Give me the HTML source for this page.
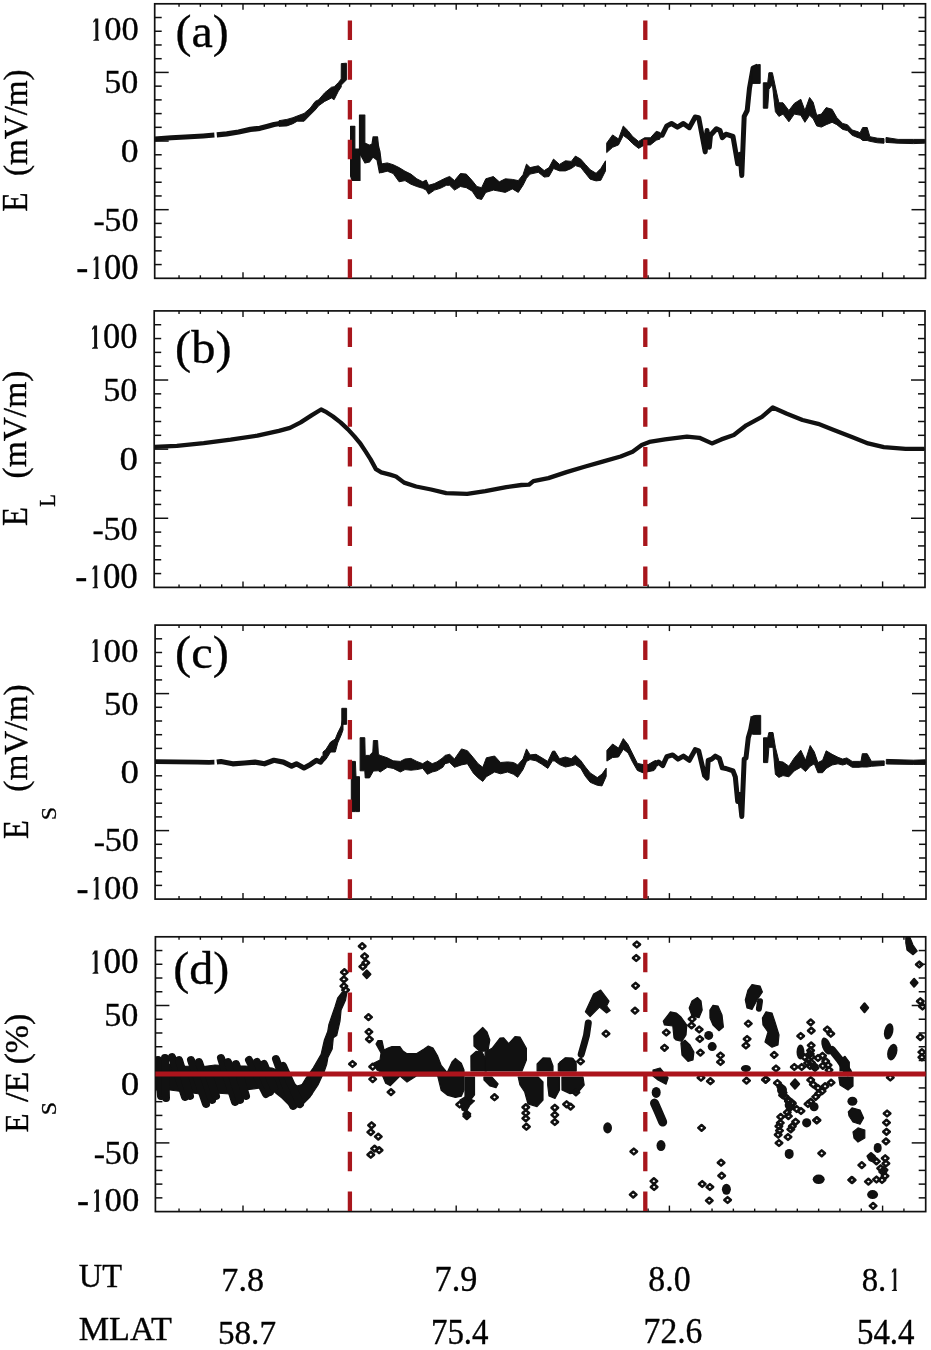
<!DOCTYPE html>
<html><head><meta charset="utf-8"><style>
html,body{margin:0;padding:0;background:#fff;}
svg{display:block;}
text{font-family:"Liberation Serif",serif;fill:#000;stroke:#000;}
</style></head><body>
<svg width="931" height="1350" viewBox="0 0 931 1350">
<rect width="931" height="1350" fill="#fff"/>
<rect x="154.7" y="3.8" width="770.80" height="274.50" fill="none" stroke="#111" stroke-width="1.7"/>
<line x1="154.7" y1="17.52" x2="161.7" y2="17.52" stroke="#111" stroke-width="1.5"/>
<line x1="925.5" y1="17.52" x2="918.5" y2="17.52" stroke="#111" stroke-width="1.5"/>
<line x1="154.7" y1="31.25" x2="161.7" y2="31.25" stroke="#111" stroke-width="1.5"/>
<line x1="925.5" y1="31.25" x2="918.5" y2="31.25" stroke="#111" stroke-width="1.5"/>
<line x1="154.7" y1="44.97" x2="161.7" y2="44.97" stroke="#111" stroke-width="1.5"/>
<line x1="925.5" y1="44.97" x2="918.5" y2="44.97" stroke="#111" stroke-width="1.5"/>
<line x1="154.7" y1="58.70" x2="161.7" y2="58.70" stroke="#111" stroke-width="1.5"/>
<line x1="925.5" y1="58.70" x2="918.5" y2="58.70" stroke="#111" stroke-width="1.5"/>
<line x1="154.7" y1="72.42" x2="168.7" y2="72.42" stroke="#111" stroke-width="1.5"/>
<line x1="925.5" y1="72.42" x2="911.5" y2="72.42" stroke="#111" stroke-width="1.5"/>
<line x1="154.7" y1="86.15" x2="161.7" y2="86.15" stroke="#111" stroke-width="1.5"/>
<line x1="925.5" y1="86.15" x2="918.5" y2="86.15" stroke="#111" stroke-width="1.5"/>
<line x1="154.7" y1="99.88" x2="161.7" y2="99.88" stroke="#111" stroke-width="1.5"/>
<line x1="925.5" y1="99.88" x2="918.5" y2="99.88" stroke="#111" stroke-width="1.5"/>
<line x1="154.7" y1="113.60" x2="161.7" y2="113.60" stroke="#111" stroke-width="1.5"/>
<line x1="925.5" y1="113.60" x2="918.5" y2="113.60" stroke="#111" stroke-width="1.5"/>
<line x1="154.7" y1="127.33" x2="161.7" y2="127.33" stroke="#111" stroke-width="1.5"/>
<line x1="925.5" y1="127.33" x2="918.5" y2="127.33" stroke="#111" stroke-width="1.5"/>
<line x1="154.7" y1="141.05" x2="168.7" y2="141.05" stroke="#111" stroke-width="1.5"/>
<line x1="925.5" y1="141.05" x2="911.5" y2="141.05" stroke="#111" stroke-width="1.5"/>
<line x1="154.7" y1="154.78" x2="161.7" y2="154.78" stroke="#111" stroke-width="1.5"/>
<line x1="925.5" y1="154.78" x2="918.5" y2="154.78" stroke="#111" stroke-width="1.5"/>
<line x1="154.7" y1="168.50" x2="161.7" y2="168.50" stroke="#111" stroke-width="1.5"/>
<line x1="925.5" y1="168.50" x2="918.5" y2="168.50" stroke="#111" stroke-width="1.5"/>
<line x1="154.7" y1="182.23" x2="161.7" y2="182.23" stroke="#111" stroke-width="1.5"/>
<line x1="925.5" y1="182.23" x2="918.5" y2="182.23" stroke="#111" stroke-width="1.5"/>
<line x1="154.7" y1="195.95" x2="161.7" y2="195.95" stroke="#111" stroke-width="1.5"/>
<line x1="925.5" y1="195.95" x2="918.5" y2="195.95" stroke="#111" stroke-width="1.5"/>
<line x1="154.7" y1="209.68" x2="168.7" y2="209.68" stroke="#111" stroke-width="1.5"/>
<line x1="925.5" y1="209.68" x2="911.5" y2="209.68" stroke="#111" stroke-width="1.5"/>
<line x1="154.7" y1="223.40" x2="161.7" y2="223.40" stroke="#111" stroke-width="1.5"/>
<line x1="925.5" y1="223.40" x2="918.5" y2="223.40" stroke="#111" stroke-width="1.5"/>
<line x1="154.7" y1="237.12" x2="161.7" y2="237.12" stroke="#111" stroke-width="1.5"/>
<line x1="925.5" y1="237.12" x2="918.5" y2="237.12" stroke="#111" stroke-width="1.5"/>
<line x1="154.7" y1="250.85" x2="161.7" y2="250.85" stroke="#111" stroke-width="1.5"/>
<line x1="925.5" y1="250.85" x2="918.5" y2="250.85" stroke="#111" stroke-width="1.5"/>
<line x1="154.7" y1="264.57" x2="161.7" y2="264.57" stroke="#111" stroke-width="1.5"/>
<line x1="925.5" y1="264.57" x2="918.5" y2="264.57" stroke="#111" stroke-width="1.5"/>
<line x1="179.04" y1="278.3" x2="179.04" y2="275.3" stroke="#111" stroke-width="1.4"/>
<line x1="179.04" y1="3.8" x2="179.04" y2="6.8" stroke="#111" stroke-width="1.4"/>
<line x1="200.36" y1="278.3" x2="200.36" y2="275.3" stroke="#111" stroke-width="1.4"/>
<line x1="200.36" y1="3.8" x2="200.36" y2="6.8" stroke="#111" stroke-width="1.4"/>
<line x1="221.68" y1="278.3" x2="221.68" y2="275.3" stroke="#111" stroke-width="1.4"/>
<line x1="221.68" y1="3.8" x2="221.68" y2="6.8" stroke="#111" stroke-width="1.4"/>
<line x1="243.00" y1="278.3" x2="243.00" y2="272.3" stroke="#111" stroke-width="1.4"/>
<line x1="243.00" y1="3.8" x2="243.00" y2="9.8" stroke="#111" stroke-width="1.4"/>
<line x1="264.32" y1="278.3" x2="264.32" y2="275.3" stroke="#111" stroke-width="1.4"/>
<line x1="264.32" y1="3.8" x2="264.32" y2="6.8" stroke="#111" stroke-width="1.4"/>
<line x1="285.64" y1="278.3" x2="285.64" y2="275.3" stroke="#111" stroke-width="1.4"/>
<line x1="285.64" y1="3.8" x2="285.64" y2="6.8" stroke="#111" stroke-width="1.4"/>
<line x1="306.96" y1="278.3" x2="306.96" y2="275.3" stroke="#111" stroke-width="1.4"/>
<line x1="306.96" y1="3.8" x2="306.96" y2="6.8" stroke="#111" stroke-width="1.4"/>
<line x1="328.28" y1="278.3" x2="328.28" y2="275.3" stroke="#111" stroke-width="1.4"/>
<line x1="328.28" y1="3.8" x2="328.28" y2="6.8" stroke="#111" stroke-width="1.4"/>
<line x1="349.60" y1="278.3" x2="349.60" y2="275.3" stroke="#111" stroke-width="1.4"/>
<line x1="349.60" y1="3.8" x2="349.60" y2="6.8" stroke="#111" stroke-width="1.4"/>
<line x1="370.92" y1="278.3" x2="370.92" y2="275.3" stroke="#111" stroke-width="1.4"/>
<line x1="370.92" y1="3.8" x2="370.92" y2="6.8" stroke="#111" stroke-width="1.4"/>
<line x1="392.24" y1="278.3" x2="392.24" y2="275.3" stroke="#111" stroke-width="1.4"/>
<line x1="392.24" y1="3.8" x2="392.24" y2="6.8" stroke="#111" stroke-width="1.4"/>
<line x1="413.56" y1="278.3" x2="413.56" y2="275.3" stroke="#111" stroke-width="1.4"/>
<line x1="413.56" y1="3.8" x2="413.56" y2="6.8" stroke="#111" stroke-width="1.4"/>
<line x1="434.88" y1="278.3" x2="434.88" y2="275.3" stroke="#111" stroke-width="1.4"/>
<line x1="434.88" y1="3.8" x2="434.88" y2="6.8" stroke="#111" stroke-width="1.4"/>
<line x1="456.20" y1="278.3" x2="456.20" y2="272.3" stroke="#111" stroke-width="1.4"/>
<line x1="456.20" y1="3.8" x2="456.20" y2="9.8" stroke="#111" stroke-width="1.4"/>
<line x1="477.52" y1="278.3" x2="477.52" y2="275.3" stroke="#111" stroke-width="1.4"/>
<line x1="477.52" y1="3.8" x2="477.52" y2="6.8" stroke="#111" stroke-width="1.4"/>
<line x1="498.84" y1="278.3" x2="498.84" y2="275.3" stroke="#111" stroke-width="1.4"/>
<line x1="498.84" y1="3.8" x2="498.84" y2="6.8" stroke="#111" stroke-width="1.4"/>
<line x1="520.16" y1="278.3" x2="520.16" y2="275.3" stroke="#111" stroke-width="1.4"/>
<line x1="520.16" y1="3.8" x2="520.16" y2="6.8" stroke="#111" stroke-width="1.4"/>
<line x1="541.48" y1="278.3" x2="541.48" y2="275.3" stroke="#111" stroke-width="1.4"/>
<line x1="541.48" y1="3.8" x2="541.48" y2="6.8" stroke="#111" stroke-width="1.4"/>
<line x1="562.80" y1="278.3" x2="562.80" y2="275.3" stroke="#111" stroke-width="1.4"/>
<line x1="562.80" y1="3.8" x2="562.80" y2="6.8" stroke="#111" stroke-width="1.4"/>
<line x1="584.12" y1="278.3" x2="584.12" y2="275.3" stroke="#111" stroke-width="1.4"/>
<line x1="584.12" y1="3.8" x2="584.12" y2="6.8" stroke="#111" stroke-width="1.4"/>
<line x1="605.44" y1="278.3" x2="605.44" y2="275.3" stroke="#111" stroke-width="1.4"/>
<line x1="605.44" y1="3.8" x2="605.44" y2="6.8" stroke="#111" stroke-width="1.4"/>
<line x1="626.76" y1="278.3" x2="626.76" y2="275.3" stroke="#111" stroke-width="1.4"/>
<line x1="626.76" y1="3.8" x2="626.76" y2="6.8" stroke="#111" stroke-width="1.4"/>
<line x1="648.08" y1="278.3" x2="648.08" y2="275.3" stroke="#111" stroke-width="1.4"/>
<line x1="648.08" y1="3.8" x2="648.08" y2="6.8" stroke="#111" stroke-width="1.4"/>
<line x1="669.40" y1="278.3" x2="669.40" y2="272.3" stroke="#111" stroke-width="1.4"/>
<line x1="669.40" y1="3.8" x2="669.40" y2="9.8" stroke="#111" stroke-width="1.4"/>
<line x1="690.72" y1="278.3" x2="690.72" y2="275.3" stroke="#111" stroke-width="1.4"/>
<line x1="690.72" y1="3.8" x2="690.72" y2="6.8" stroke="#111" stroke-width="1.4"/>
<line x1="712.04" y1="278.3" x2="712.04" y2="275.3" stroke="#111" stroke-width="1.4"/>
<line x1="712.04" y1="3.8" x2="712.04" y2="6.8" stroke="#111" stroke-width="1.4"/>
<line x1="733.36" y1="278.3" x2="733.36" y2="275.3" stroke="#111" stroke-width="1.4"/>
<line x1="733.36" y1="3.8" x2="733.36" y2="6.8" stroke="#111" stroke-width="1.4"/>
<line x1="754.68" y1="278.3" x2="754.68" y2="275.3" stroke="#111" stroke-width="1.4"/>
<line x1="754.68" y1="3.8" x2="754.68" y2="6.8" stroke="#111" stroke-width="1.4"/>
<line x1="776.00" y1="278.3" x2="776.00" y2="275.3" stroke="#111" stroke-width="1.4"/>
<line x1="776.00" y1="3.8" x2="776.00" y2="6.8" stroke="#111" stroke-width="1.4"/>
<line x1="797.32" y1="278.3" x2="797.32" y2="275.3" stroke="#111" stroke-width="1.4"/>
<line x1="797.32" y1="3.8" x2="797.32" y2="6.8" stroke="#111" stroke-width="1.4"/>
<line x1="818.64" y1="278.3" x2="818.64" y2="275.3" stroke="#111" stroke-width="1.4"/>
<line x1="818.64" y1="3.8" x2="818.64" y2="6.8" stroke="#111" stroke-width="1.4"/>
<line x1="839.96" y1="278.3" x2="839.96" y2="275.3" stroke="#111" stroke-width="1.4"/>
<line x1="839.96" y1="3.8" x2="839.96" y2="6.8" stroke="#111" stroke-width="1.4"/>
<line x1="861.28" y1="278.3" x2="861.28" y2="275.3" stroke="#111" stroke-width="1.4"/>
<line x1="861.28" y1="3.8" x2="861.28" y2="6.8" stroke="#111" stroke-width="1.4"/>
<line x1="882.60" y1="278.3" x2="882.60" y2="272.3" stroke="#111" stroke-width="1.4"/>
<line x1="882.60" y1="3.8" x2="882.60" y2="9.8" stroke="#111" stroke-width="1.4"/>
<line x1="903.92" y1="278.3" x2="903.92" y2="275.3" stroke="#111" stroke-width="1.4"/>
<line x1="903.92" y1="3.8" x2="903.92" y2="6.8" stroke="#111" stroke-width="1.4"/>
<rect x="154.2" y="310.9" width="770.80" height="276.50" fill="none" stroke="#111" stroke-width="1.7"/>
<line x1="154.2" y1="324.72" x2="161.2" y2="324.72" stroke="#111" stroke-width="1.5"/>
<line x1="925.0" y1="324.72" x2="918.0" y2="324.72" stroke="#111" stroke-width="1.5"/>
<line x1="154.2" y1="338.55" x2="161.2" y2="338.55" stroke="#111" stroke-width="1.5"/>
<line x1="925.0" y1="338.55" x2="918.0" y2="338.55" stroke="#111" stroke-width="1.5"/>
<line x1="154.2" y1="352.38" x2="161.2" y2="352.38" stroke="#111" stroke-width="1.5"/>
<line x1="925.0" y1="352.38" x2="918.0" y2="352.38" stroke="#111" stroke-width="1.5"/>
<line x1="154.2" y1="366.20" x2="161.2" y2="366.20" stroke="#111" stroke-width="1.5"/>
<line x1="925.0" y1="366.20" x2="918.0" y2="366.20" stroke="#111" stroke-width="1.5"/>
<line x1="154.2" y1="380.02" x2="168.2" y2="380.02" stroke="#111" stroke-width="1.5"/>
<line x1="925.0" y1="380.02" x2="911.0" y2="380.02" stroke="#111" stroke-width="1.5"/>
<line x1="154.2" y1="393.85" x2="161.2" y2="393.85" stroke="#111" stroke-width="1.5"/>
<line x1="925.0" y1="393.85" x2="918.0" y2="393.85" stroke="#111" stroke-width="1.5"/>
<line x1="154.2" y1="407.67" x2="161.2" y2="407.67" stroke="#111" stroke-width="1.5"/>
<line x1="925.0" y1="407.67" x2="918.0" y2="407.67" stroke="#111" stroke-width="1.5"/>
<line x1="154.2" y1="421.50" x2="161.2" y2="421.50" stroke="#111" stroke-width="1.5"/>
<line x1="925.0" y1="421.50" x2="918.0" y2="421.50" stroke="#111" stroke-width="1.5"/>
<line x1="154.2" y1="435.32" x2="161.2" y2="435.32" stroke="#111" stroke-width="1.5"/>
<line x1="925.0" y1="435.32" x2="918.0" y2="435.32" stroke="#111" stroke-width="1.5"/>
<line x1="154.2" y1="449.15" x2="168.2" y2="449.15" stroke="#111" stroke-width="1.5"/>
<line x1="925.0" y1="449.15" x2="911.0" y2="449.15" stroke="#111" stroke-width="1.5"/>
<line x1="154.2" y1="462.97" x2="161.2" y2="462.97" stroke="#111" stroke-width="1.5"/>
<line x1="925.0" y1="462.97" x2="918.0" y2="462.97" stroke="#111" stroke-width="1.5"/>
<line x1="154.2" y1="476.80" x2="161.2" y2="476.80" stroke="#111" stroke-width="1.5"/>
<line x1="925.0" y1="476.80" x2="918.0" y2="476.80" stroke="#111" stroke-width="1.5"/>
<line x1="154.2" y1="490.62" x2="161.2" y2="490.62" stroke="#111" stroke-width="1.5"/>
<line x1="925.0" y1="490.62" x2="918.0" y2="490.62" stroke="#111" stroke-width="1.5"/>
<line x1="154.2" y1="504.45" x2="161.2" y2="504.45" stroke="#111" stroke-width="1.5"/>
<line x1="925.0" y1="504.45" x2="918.0" y2="504.45" stroke="#111" stroke-width="1.5"/>
<line x1="154.2" y1="518.27" x2="168.2" y2="518.27" stroke="#111" stroke-width="1.5"/>
<line x1="925.0" y1="518.27" x2="911.0" y2="518.27" stroke="#111" stroke-width="1.5"/>
<line x1="154.2" y1="532.10" x2="161.2" y2="532.10" stroke="#111" stroke-width="1.5"/>
<line x1="925.0" y1="532.10" x2="918.0" y2="532.10" stroke="#111" stroke-width="1.5"/>
<line x1="154.2" y1="545.92" x2="161.2" y2="545.92" stroke="#111" stroke-width="1.5"/>
<line x1="925.0" y1="545.92" x2="918.0" y2="545.92" stroke="#111" stroke-width="1.5"/>
<line x1="154.2" y1="559.75" x2="161.2" y2="559.75" stroke="#111" stroke-width="1.5"/>
<line x1="925.0" y1="559.75" x2="918.0" y2="559.75" stroke="#111" stroke-width="1.5"/>
<line x1="154.2" y1="573.58" x2="161.2" y2="573.58" stroke="#111" stroke-width="1.5"/>
<line x1="925.0" y1="573.58" x2="918.0" y2="573.58" stroke="#111" stroke-width="1.5"/>
<line x1="179.04" y1="587.4" x2="179.04" y2="584.4" stroke="#111" stroke-width="1.4"/>
<line x1="179.04" y1="310.9" x2="179.04" y2="313.9" stroke="#111" stroke-width="1.4"/>
<line x1="200.36" y1="587.4" x2="200.36" y2="584.4" stroke="#111" stroke-width="1.4"/>
<line x1="200.36" y1="310.9" x2="200.36" y2="313.9" stroke="#111" stroke-width="1.4"/>
<line x1="221.68" y1="587.4" x2="221.68" y2="584.4" stroke="#111" stroke-width="1.4"/>
<line x1="221.68" y1="310.9" x2="221.68" y2="313.9" stroke="#111" stroke-width="1.4"/>
<line x1="243.00" y1="587.4" x2="243.00" y2="581.4" stroke="#111" stroke-width="1.4"/>
<line x1="243.00" y1="310.9" x2="243.00" y2="316.9" stroke="#111" stroke-width="1.4"/>
<line x1="264.32" y1="587.4" x2="264.32" y2="584.4" stroke="#111" stroke-width="1.4"/>
<line x1="264.32" y1="310.9" x2="264.32" y2="313.9" stroke="#111" stroke-width="1.4"/>
<line x1="285.64" y1="587.4" x2="285.64" y2="584.4" stroke="#111" stroke-width="1.4"/>
<line x1="285.64" y1="310.9" x2="285.64" y2="313.9" stroke="#111" stroke-width="1.4"/>
<line x1="306.96" y1="587.4" x2="306.96" y2="584.4" stroke="#111" stroke-width="1.4"/>
<line x1="306.96" y1="310.9" x2="306.96" y2="313.9" stroke="#111" stroke-width="1.4"/>
<line x1="328.28" y1="587.4" x2="328.28" y2="584.4" stroke="#111" stroke-width="1.4"/>
<line x1="328.28" y1="310.9" x2="328.28" y2="313.9" stroke="#111" stroke-width="1.4"/>
<line x1="349.60" y1="587.4" x2="349.60" y2="584.4" stroke="#111" stroke-width="1.4"/>
<line x1="349.60" y1="310.9" x2="349.60" y2="313.9" stroke="#111" stroke-width="1.4"/>
<line x1="370.92" y1="587.4" x2="370.92" y2="584.4" stroke="#111" stroke-width="1.4"/>
<line x1="370.92" y1="310.9" x2="370.92" y2="313.9" stroke="#111" stroke-width="1.4"/>
<line x1="392.24" y1="587.4" x2="392.24" y2="584.4" stroke="#111" stroke-width="1.4"/>
<line x1="392.24" y1="310.9" x2="392.24" y2="313.9" stroke="#111" stroke-width="1.4"/>
<line x1="413.56" y1="587.4" x2="413.56" y2="584.4" stroke="#111" stroke-width="1.4"/>
<line x1="413.56" y1="310.9" x2="413.56" y2="313.9" stroke="#111" stroke-width="1.4"/>
<line x1="434.88" y1="587.4" x2="434.88" y2="584.4" stroke="#111" stroke-width="1.4"/>
<line x1="434.88" y1="310.9" x2="434.88" y2="313.9" stroke="#111" stroke-width="1.4"/>
<line x1="456.20" y1="587.4" x2="456.20" y2="581.4" stroke="#111" stroke-width="1.4"/>
<line x1="456.20" y1="310.9" x2="456.20" y2="316.9" stroke="#111" stroke-width="1.4"/>
<line x1="477.52" y1="587.4" x2="477.52" y2="584.4" stroke="#111" stroke-width="1.4"/>
<line x1="477.52" y1="310.9" x2="477.52" y2="313.9" stroke="#111" stroke-width="1.4"/>
<line x1="498.84" y1="587.4" x2="498.84" y2="584.4" stroke="#111" stroke-width="1.4"/>
<line x1="498.84" y1="310.9" x2="498.84" y2="313.9" stroke="#111" stroke-width="1.4"/>
<line x1="520.16" y1="587.4" x2="520.16" y2="584.4" stroke="#111" stroke-width="1.4"/>
<line x1="520.16" y1="310.9" x2="520.16" y2="313.9" stroke="#111" stroke-width="1.4"/>
<line x1="541.48" y1="587.4" x2="541.48" y2="584.4" stroke="#111" stroke-width="1.4"/>
<line x1="541.48" y1="310.9" x2="541.48" y2="313.9" stroke="#111" stroke-width="1.4"/>
<line x1="562.80" y1="587.4" x2="562.80" y2="584.4" stroke="#111" stroke-width="1.4"/>
<line x1="562.80" y1="310.9" x2="562.80" y2="313.9" stroke="#111" stroke-width="1.4"/>
<line x1="584.12" y1="587.4" x2="584.12" y2="584.4" stroke="#111" stroke-width="1.4"/>
<line x1="584.12" y1="310.9" x2="584.12" y2="313.9" stroke="#111" stroke-width="1.4"/>
<line x1="605.44" y1="587.4" x2="605.44" y2="584.4" stroke="#111" stroke-width="1.4"/>
<line x1="605.44" y1="310.9" x2="605.44" y2="313.9" stroke="#111" stroke-width="1.4"/>
<line x1="626.76" y1="587.4" x2="626.76" y2="584.4" stroke="#111" stroke-width="1.4"/>
<line x1="626.76" y1="310.9" x2="626.76" y2="313.9" stroke="#111" stroke-width="1.4"/>
<line x1="648.08" y1="587.4" x2="648.08" y2="584.4" stroke="#111" stroke-width="1.4"/>
<line x1="648.08" y1="310.9" x2="648.08" y2="313.9" stroke="#111" stroke-width="1.4"/>
<line x1="669.40" y1="587.4" x2="669.40" y2="581.4" stroke="#111" stroke-width="1.4"/>
<line x1="669.40" y1="310.9" x2="669.40" y2="316.9" stroke="#111" stroke-width="1.4"/>
<line x1="690.72" y1="587.4" x2="690.72" y2="584.4" stroke="#111" stroke-width="1.4"/>
<line x1="690.72" y1="310.9" x2="690.72" y2="313.9" stroke="#111" stroke-width="1.4"/>
<line x1="712.04" y1="587.4" x2="712.04" y2="584.4" stroke="#111" stroke-width="1.4"/>
<line x1="712.04" y1="310.9" x2="712.04" y2="313.9" stroke="#111" stroke-width="1.4"/>
<line x1="733.36" y1="587.4" x2="733.36" y2="584.4" stroke="#111" stroke-width="1.4"/>
<line x1="733.36" y1="310.9" x2="733.36" y2="313.9" stroke="#111" stroke-width="1.4"/>
<line x1="754.68" y1="587.4" x2="754.68" y2="584.4" stroke="#111" stroke-width="1.4"/>
<line x1="754.68" y1="310.9" x2="754.68" y2="313.9" stroke="#111" stroke-width="1.4"/>
<line x1="776.00" y1="587.4" x2="776.00" y2="584.4" stroke="#111" stroke-width="1.4"/>
<line x1="776.00" y1="310.9" x2="776.00" y2="313.9" stroke="#111" stroke-width="1.4"/>
<line x1="797.32" y1="587.4" x2="797.32" y2="584.4" stroke="#111" stroke-width="1.4"/>
<line x1="797.32" y1="310.9" x2="797.32" y2="313.9" stroke="#111" stroke-width="1.4"/>
<line x1="818.64" y1="587.4" x2="818.64" y2="584.4" stroke="#111" stroke-width="1.4"/>
<line x1="818.64" y1="310.9" x2="818.64" y2="313.9" stroke="#111" stroke-width="1.4"/>
<line x1="839.96" y1="587.4" x2="839.96" y2="584.4" stroke="#111" stroke-width="1.4"/>
<line x1="839.96" y1="310.9" x2="839.96" y2="313.9" stroke="#111" stroke-width="1.4"/>
<line x1="861.28" y1="587.4" x2="861.28" y2="584.4" stroke="#111" stroke-width="1.4"/>
<line x1="861.28" y1="310.9" x2="861.28" y2="313.9" stroke="#111" stroke-width="1.4"/>
<line x1="882.60" y1="587.4" x2="882.60" y2="581.4" stroke="#111" stroke-width="1.4"/>
<line x1="882.60" y1="310.9" x2="882.60" y2="316.9" stroke="#111" stroke-width="1.4"/>
<line x1="903.92" y1="587.4" x2="903.92" y2="584.4" stroke="#111" stroke-width="1.4"/>
<line x1="903.92" y1="310.9" x2="903.92" y2="313.9" stroke="#111" stroke-width="1.4"/>
<rect x="155.1" y="625.1" width="770.90" height="274.00" fill="none" stroke="#111" stroke-width="1.7"/>
<line x1="155.1" y1="638.80" x2="162.1" y2="638.80" stroke="#111" stroke-width="1.5"/>
<line x1="926.0" y1="638.80" x2="919.0" y2="638.80" stroke="#111" stroke-width="1.5"/>
<line x1="155.1" y1="652.50" x2="162.1" y2="652.50" stroke="#111" stroke-width="1.5"/>
<line x1="926.0" y1="652.50" x2="919.0" y2="652.50" stroke="#111" stroke-width="1.5"/>
<line x1="155.1" y1="666.20" x2="162.1" y2="666.20" stroke="#111" stroke-width="1.5"/>
<line x1="926.0" y1="666.20" x2="919.0" y2="666.20" stroke="#111" stroke-width="1.5"/>
<line x1="155.1" y1="679.90" x2="162.1" y2="679.90" stroke="#111" stroke-width="1.5"/>
<line x1="926.0" y1="679.90" x2="919.0" y2="679.90" stroke="#111" stroke-width="1.5"/>
<line x1="155.1" y1="693.60" x2="169.1" y2="693.60" stroke="#111" stroke-width="1.5"/>
<line x1="926.0" y1="693.60" x2="912.0" y2="693.60" stroke="#111" stroke-width="1.5"/>
<line x1="155.1" y1="707.30" x2="162.1" y2="707.30" stroke="#111" stroke-width="1.5"/>
<line x1="926.0" y1="707.30" x2="919.0" y2="707.30" stroke="#111" stroke-width="1.5"/>
<line x1="155.1" y1="721.00" x2="162.1" y2="721.00" stroke="#111" stroke-width="1.5"/>
<line x1="926.0" y1="721.00" x2="919.0" y2="721.00" stroke="#111" stroke-width="1.5"/>
<line x1="155.1" y1="734.70" x2="162.1" y2="734.70" stroke="#111" stroke-width="1.5"/>
<line x1="926.0" y1="734.70" x2="919.0" y2="734.70" stroke="#111" stroke-width="1.5"/>
<line x1="155.1" y1="748.40" x2="162.1" y2="748.40" stroke="#111" stroke-width="1.5"/>
<line x1="926.0" y1="748.40" x2="919.0" y2="748.40" stroke="#111" stroke-width="1.5"/>
<line x1="155.1" y1="762.10" x2="169.1" y2="762.10" stroke="#111" stroke-width="1.5"/>
<line x1="926.0" y1="762.10" x2="912.0" y2="762.10" stroke="#111" stroke-width="1.5"/>
<line x1="155.1" y1="775.80" x2="162.1" y2="775.80" stroke="#111" stroke-width="1.5"/>
<line x1="926.0" y1="775.80" x2="919.0" y2="775.80" stroke="#111" stroke-width="1.5"/>
<line x1="155.1" y1="789.50" x2="162.1" y2="789.50" stroke="#111" stroke-width="1.5"/>
<line x1="926.0" y1="789.50" x2="919.0" y2="789.50" stroke="#111" stroke-width="1.5"/>
<line x1="155.1" y1="803.20" x2="162.1" y2="803.20" stroke="#111" stroke-width="1.5"/>
<line x1="926.0" y1="803.20" x2="919.0" y2="803.20" stroke="#111" stroke-width="1.5"/>
<line x1="155.1" y1="816.90" x2="162.1" y2="816.90" stroke="#111" stroke-width="1.5"/>
<line x1="926.0" y1="816.90" x2="919.0" y2="816.90" stroke="#111" stroke-width="1.5"/>
<line x1="155.1" y1="830.60" x2="169.1" y2="830.60" stroke="#111" stroke-width="1.5"/>
<line x1="926.0" y1="830.60" x2="912.0" y2="830.60" stroke="#111" stroke-width="1.5"/>
<line x1="155.1" y1="844.30" x2="162.1" y2="844.30" stroke="#111" stroke-width="1.5"/>
<line x1="926.0" y1="844.30" x2="919.0" y2="844.30" stroke="#111" stroke-width="1.5"/>
<line x1="155.1" y1="858.00" x2="162.1" y2="858.00" stroke="#111" stroke-width="1.5"/>
<line x1="926.0" y1="858.00" x2="919.0" y2="858.00" stroke="#111" stroke-width="1.5"/>
<line x1="155.1" y1="871.70" x2="162.1" y2="871.70" stroke="#111" stroke-width="1.5"/>
<line x1="926.0" y1="871.70" x2="919.0" y2="871.70" stroke="#111" stroke-width="1.5"/>
<line x1="155.1" y1="885.40" x2="162.1" y2="885.40" stroke="#111" stroke-width="1.5"/>
<line x1="926.0" y1="885.40" x2="919.0" y2="885.40" stroke="#111" stroke-width="1.5"/>
<line x1="179.04" y1="899.1" x2="179.04" y2="896.1" stroke="#111" stroke-width="1.4"/>
<line x1="179.04" y1="625.1" x2="179.04" y2="628.1" stroke="#111" stroke-width="1.4"/>
<line x1="200.36" y1="899.1" x2="200.36" y2="896.1" stroke="#111" stroke-width="1.4"/>
<line x1="200.36" y1="625.1" x2="200.36" y2="628.1" stroke="#111" stroke-width="1.4"/>
<line x1="221.68" y1="899.1" x2="221.68" y2="896.1" stroke="#111" stroke-width="1.4"/>
<line x1="221.68" y1="625.1" x2="221.68" y2="628.1" stroke="#111" stroke-width="1.4"/>
<line x1="243.00" y1="899.1" x2="243.00" y2="893.1" stroke="#111" stroke-width="1.4"/>
<line x1="243.00" y1="625.1" x2="243.00" y2="631.1" stroke="#111" stroke-width="1.4"/>
<line x1="264.32" y1="899.1" x2="264.32" y2="896.1" stroke="#111" stroke-width="1.4"/>
<line x1="264.32" y1="625.1" x2="264.32" y2="628.1" stroke="#111" stroke-width="1.4"/>
<line x1="285.64" y1="899.1" x2="285.64" y2="896.1" stroke="#111" stroke-width="1.4"/>
<line x1="285.64" y1="625.1" x2="285.64" y2="628.1" stroke="#111" stroke-width="1.4"/>
<line x1="306.96" y1="899.1" x2="306.96" y2="896.1" stroke="#111" stroke-width="1.4"/>
<line x1="306.96" y1="625.1" x2="306.96" y2="628.1" stroke="#111" stroke-width="1.4"/>
<line x1="328.28" y1="899.1" x2="328.28" y2="896.1" stroke="#111" stroke-width="1.4"/>
<line x1="328.28" y1="625.1" x2="328.28" y2="628.1" stroke="#111" stroke-width="1.4"/>
<line x1="349.60" y1="899.1" x2="349.60" y2="896.1" stroke="#111" stroke-width="1.4"/>
<line x1="349.60" y1="625.1" x2="349.60" y2="628.1" stroke="#111" stroke-width="1.4"/>
<line x1="370.92" y1="899.1" x2="370.92" y2="896.1" stroke="#111" stroke-width="1.4"/>
<line x1="370.92" y1="625.1" x2="370.92" y2="628.1" stroke="#111" stroke-width="1.4"/>
<line x1="392.24" y1="899.1" x2="392.24" y2="896.1" stroke="#111" stroke-width="1.4"/>
<line x1="392.24" y1="625.1" x2="392.24" y2="628.1" stroke="#111" stroke-width="1.4"/>
<line x1="413.56" y1="899.1" x2="413.56" y2="896.1" stroke="#111" stroke-width="1.4"/>
<line x1="413.56" y1="625.1" x2="413.56" y2="628.1" stroke="#111" stroke-width="1.4"/>
<line x1="434.88" y1="899.1" x2="434.88" y2="896.1" stroke="#111" stroke-width="1.4"/>
<line x1="434.88" y1="625.1" x2="434.88" y2="628.1" stroke="#111" stroke-width="1.4"/>
<line x1="456.20" y1="899.1" x2="456.20" y2="893.1" stroke="#111" stroke-width="1.4"/>
<line x1="456.20" y1="625.1" x2="456.20" y2="631.1" stroke="#111" stroke-width="1.4"/>
<line x1="477.52" y1="899.1" x2="477.52" y2="896.1" stroke="#111" stroke-width="1.4"/>
<line x1="477.52" y1="625.1" x2="477.52" y2="628.1" stroke="#111" stroke-width="1.4"/>
<line x1="498.84" y1="899.1" x2="498.84" y2="896.1" stroke="#111" stroke-width="1.4"/>
<line x1="498.84" y1="625.1" x2="498.84" y2="628.1" stroke="#111" stroke-width="1.4"/>
<line x1="520.16" y1="899.1" x2="520.16" y2="896.1" stroke="#111" stroke-width="1.4"/>
<line x1="520.16" y1="625.1" x2="520.16" y2="628.1" stroke="#111" stroke-width="1.4"/>
<line x1="541.48" y1="899.1" x2="541.48" y2="896.1" stroke="#111" stroke-width="1.4"/>
<line x1="541.48" y1="625.1" x2="541.48" y2="628.1" stroke="#111" stroke-width="1.4"/>
<line x1="562.80" y1="899.1" x2="562.80" y2="896.1" stroke="#111" stroke-width="1.4"/>
<line x1="562.80" y1="625.1" x2="562.80" y2="628.1" stroke="#111" stroke-width="1.4"/>
<line x1="584.12" y1="899.1" x2="584.12" y2="896.1" stroke="#111" stroke-width="1.4"/>
<line x1="584.12" y1="625.1" x2="584.12" y2="628.1" stroke="#111" stroke-width="1.4"/>
<line x1="605.44" y1="899.1" x2="605.44" y2="896.1" stroke="#111" stroke-width="1.4"/>
<line x1="605.44" y1="625.1" x2="605.44" y2="628.1" stroke="#111" stroke-width="1.4"/>
<line x1="626.76" y1="899.1" x2="626.76" y2="896.1" stroke="#111" stroke-width="1.4"/>
<line x1="626.76" y1="625.1" x2="626.76" y2="628.1" stroke="#111" stroke-width="1.4"/>
<line x1="648.08" y1="899.1" x2="648.08" y2="896.1" stroke="#111" stroke-width="1.4"/>
<line x1="648.08" y1="625.1" x2="648.08" y2="628.1" stroke="#111" stroke-width="1.4"/>
<line x1="669.40" y1="899.1" x2="669.40" y2="893.1" stroke="#111" stroke-width="1.4"/>
<line x1="669.40" y1="625.1" x2="669.40" y2="631.1" stroke="#111" stroke-width="1.4"/>
<line x1="690.72" y1="899.1" x2="690.72" y2="896.1" stroke="#111" stroke-width="1.4"/>
<line x1="690.72" y1="625.1" x2="690.72" y2="628.1" stroke="#111" stroke-width="1.4"/>
<line x1="712.04" y1="899.1" x2="712.04" y2="896.1" stroke="#111" stroke-width="1.4"/>
<line x1="712.04" y1="625.1" x2="712.04" y2="628.1" stroke="#111" stroke-width="1.4"/>
<line x1="733.36" y1="899.1" x2="733.36" y2="896.1" stroke="#111" stroke-width="1.4"/>
<line x1="733.36" y1="625.1" x2="733.36" y2="628.1" stroke="#111" stroke-width="1.4"/>
<line x1="754.68" y1="899.1" x2="754.68" y2="896.1" stroke="#111" stroke-width="1.4"/>
<line x1="754.68" y1="625.1" x2="754.68" y2="628.1" stroke="#111" stroke-width="1.4"/>
<line x1="776.00" y1="899.1" x2="776.00" y2="896.1" stroke="#111" stroke-width="1.4"/>
<line x1="776.00" y1="625.1" x2="776.00" y2="628.1" stroke="#111" stroke-width="1.4"/>
<line x1="797.32" y1="899.1" x2="797.32" y2="896.1" stroke="#111" stroke-width="1.4"/>
<line x1="797.32" y1="625.1" x2="797.32" y2="628.1" stroke="#111" stroke-width="1.4"/>
<line x1="818.64" y1="899.1" x2="818.64" y2="896.1" stroke="#111" stroke-width="1.4"/>
<line x1="818.64" y1="625.1" x2="818.64" y2="628.1" stroke="#111" stroke-width="1.4"/>
<line x1="839.96" y1="899.1" x2="839.96" y2="896.1" stroke="#111" stroke-width="1.4"/>
<line x1="839.96" y1="625.1" x2="839.96" y2="628.1" stroke="#111" stroke-width="1.4"/>
<line x1="861.28" y1="899.1" x2="861.28" y2="896.1" stroke="#111" stroke-width="1.4"/>
<line x1="861.28" y1="625.1" x2="861.28" y2="628.1" stroke="#111" stroke-width="1.4"/>
<line x1="882.60" y1="899.1" x2="882.60" y2="893.1" stroke="#111" stroke-width="1.4"/>
<line x1="882.60" y1="625.1" x2="882.60" y2="631.1" stroke="#111" stroke-width="1.4"/>
<line x1="903.92" y1="899.1" x2="903.92" y2="896.1" stroke="#111" stroke-width="1.4"/>
<line x1="903.92" y1="625.1" x2="903.92" y2="628.1" stroke="#111" stroke-width="1.4"/>
<rect x="155.4" y="936.8" width="770.30" height="274.80" fill="none" stroke="#111" stroke-width="1.7"/>
<line x1="155.4" y1="950.54" x2="162.4" y2="950.54" stroke="#111" stroke-width="1.5"/>
<line x1="925.7" y1="950.54" x2="918.7" y2="950.54" stroke="#111" stroke-width="1.5"/>
<line x1="155.4" y1="964.28" x2="162.4" y2="964.28" stroke="#111" stroke-width="1.5"/>
<line x1="925.7" y1="964.28" x2="918.7" y2="964.28" stroke="#111" stroke-width="1.5"/>
<line x1="155.4" y1="978.02" x2="162.4" y2="978.02" stroke="#111" stroke-width="1.5"/>
<line x1="925.7" y1="978.02" x2="918.7" y2="978.02" stroke="#111" stroke-width="1.5"/>
<line x1="155.4" y1="991.76" x2="162.4" y2="991.76" stroke="#111" stroke-width="1.5"/>
<line x1="925.7" y1="991.76" x2="918.7" y2="991.76" stroke="#111" stroke-width="1.5"/>
<line x1="155.4" y1="1005.50" x2="169.4" y2="1005.50" stroke="#111" stroke-width="1.5"/>
<line x1="925.7" y1="1005.50" x2="911.7" y2="1005.50" stroke="#111" stroke-width="1.5"/>
<line x1="155.4" y1="1019.24" x2="162.4" y2="1019.24" stroke="#111" stroke-width="1.5"/>
<line x1="925.7" y1="1019.24" x2="918.7" y2="1019.24" stroke="#111" stroke-width="1.5"/>
<line x1="155.4" y1="1032.98" x2="162.4" y2="1032.98" stroke="#111" stroke-width="1.5"/>
<line x1="925.7" y1="1032.98" x2="918.7" y2="1032.98" stroke="#111" stroke-width="1.5"/>
<line x1="155.4" y1="1046.72" x2="162.4" y2="1046.72" stroke="#111" stroke-width="1.5"/>
<line x1="925.7" y1="1046.72" x2="918.7" y2="1046.72" stroke="#111" stroke-width="1.5"/>
<line x1="155.4" y1="1060.46" x2="162.4" y2="1060.46" stroke="#111" stroke-width="1.5"/>
<line x1="925.7" y1="1060.46" x2="918.7" y2="1060.46" stroke="#111" stroke-width="1.5"/>
<line x1="155.4" y1="1074.20" x2="169.4" y2="1074.20" stroke="#111" stroke-width="1.5"/>
<line x1="925.7" y1="1074.20" x2="911.7" y2="1074.20" stroke="#111" stroke-width="1.5"/>
<line x1="155.4" y1="1087.94" x2="162.4" y2="1087.94" stroke="#111" stroke-width="1.5"/>
<line x1="925.7" y1="1087.94" x2="918.7" y2="1087.94" stroke="#111" stroke-width="1.5"/>
<line x1="155.4" y1="1101.68" x2="162.4" y2="1101.68" stroke="#111" stroke-width="1.5"/>
<line x1="925.7" y1="1101.68" x2="918.7" y2="1101.68" stroke="#111" stroke-width="1.5"/>
<line x1="155.4" y1="1115.42" x2="162.4" y2="1115.42" stroke="#111" stroke-width="1.5"/>
<line x1="925.7" y1="1115.42" x2="918.7" y2="1115.42" stroke="#111" stroke-width="1.5"/>
<line x1="155.4" y1="1129.16" x2="162.4" y2="1129.16" stroke="#111" stroke-width="1.5"/>
<line x1="925.7" y1="1129.16" x2="918.7" y2="1129.16" stroke="#111" stroke-width="1.5"/>
<line x1="155.4" y1="1142.90" x2="169.4" y2="1142.90" stroke="#111" stroke-width="1.5"/>
<line x1="925.7" y1="1142.90" x2="911.7" y2="1142.90" stroke="#111" stroke-width="1.5"/>
<line x1="155.4" y1="1156.64" x2="162.4" y2="1156.64" stroke="#111" stroke-width="1.5"/>
<line x1="925.7" y1="1156.64" x2="918.7" y2="1156.64" stroke="#111" stroke-width="1.5"/>
<line x1="155.4" y1="1170.38" x2="162.4" y2="1170.38" stroke="#111" stroke-width="1.5"/>
<line x1="925.7" y1="1170.38" x2="918.7" y2="1170.38" stroke="#111" stroke-width="1.5"/>
<line x1="155.4" y1="1184.12" x2="162.4" y2="1184.12" stroke="#111" stroke-width="1.5"/>
<line x1="925.7" y1="1184.12" x2="918.7" y2="1184.12" stroke="#111" stroke-width="1.5"/>
<line x1="155.4" y1="1197.86" x2="162.4" y2="1197.86" stroke="#111" stroke-width="1.5"/>
<line x1="925.7" y1="1197.86" x2="918.7" y2="1197.86" stroke="#111" stroke-width="1.5"/>
<line x1="179.04" y1="1211.6" x2="179.04" y2="1208.6" stroke="#111" stroke-width="1.4"/>
<line x1="179.04" y1="936.8" x2="179.04" y2="939.8" stroke="#111" stroke-width="1.4"/>
<line x1="200.36" y1="1211.6" x2="200.36" y2="1208.6" stroke="#111" stroke-width="1.4"/>
<line x1="200.36" y1="936.8" x2="200.36" y2="939.8" stroke="#111" stroke-width="1.4"/>
<line x1="221.68" y1="1211.6" x2="221.68" y2="1208.6" stroke="#111" stroke-width="1.4"/>
<line x1="221.68" y1="936.8" x2="221.68" y2="939.8" stroke="#111" stroke-width="1.4"/>
<line x1="243.00" y1="1211.6" x2="243.00" y2="1205.6" stroke="#111" stroke-width="1.4"/>
<line x1="243.00" y1="936.8" x2="243.00" y2="942.8" stroke="#111" stroke-width="1.4"/>
<line x1="264.32" y1="1211.6" x2="264.32" y2="1208.6" stroke="#111" stroke-width="1.4"/>
<line x1="264.32" y1="936.8" x2="264.32" y2="939.8" stroke="#111" stroke-width="1.4"/>
<line x1="285.64" y1="1211.6" x2="285.64" y2="1208.6" stroke="#111" stroke-width="1.4"/>
<line x1="285.64" y1="936.8" x2="285.64" y2="939.8" stroke="#111" stroke-width="1.4"/>
<line x1="306.96" y1="1211.6" x2="306.96" y2="1208.6" stroke="#111" stroke-width="1.4"/>
<line x1="306.96" y1="936.8" x2="306.96" y2="939.8" stroke="#111" stroke-width="1.4"/>
<line x1="328.28" y1="1211.6" x2="328.28" y2="1208.6" stroke="#111" stroke-width="1.4"/>
<line x1="328.28" y1="936.8" x2="328.28" y2="939.8" stroke="#111" stroke-width="1.4"/>
<line x1="349.60" y1="1211.6" x2="349.60" y2="1208.6" stroke="#111" stroke-width="1.4"/>
<line x1="349.60" y1="936.8" x2="349.60" y2="939.8" stroke="#111" stroke-width="1.4"/>
<line x1="370.92" y1="1211.6" x2="370.92" y2="1208.6" stroke="#111" stroke-width="1.4"/>
<line x1="370.92" y1="936.8" x2="370.92" y2="939.8" stroke="#111" stroke-width="1.4"/>
<line x1="392.24" y1="1211.6" x2="392.24" y2="1208.6" stroke="#111" stroke-width="1.4"/>
<line x1="392.24" y1="936.8" x2="392.24" y2="939.8" stroke="#111" stroke-width="1.4"/>
<line x1="413.56" y1="1211.6" x2="413.56" y2="1208.6" stroke="#111" stroke-width="1.4"/>
<line x1="413.56" y1="936.8" x2="413.56" y2="939.8" stroke="#111" stroke-width="1.4"/>
<line x1="434.88" y1="1211.6" x2="434.88" y2="1208.6" stroke="#111" stroke-width="1.4"/>
<line x1="434.88" y1="936.8" x2="434.88" y2="939.8" stroke="#111" stroke-width="1.4"/>
<line x1="456.20" y1="1211.6" x2="456.20" y2="1205.6" stroke="#111" stroke-width="1.4"/>
<line x1="456.20" y1="936.8" x2="456.20" y2="942.8" stroke="#111" stroke-width="1.4"/>
<line x1="477.52" y1="1211.6" x2="477.52" y2="1208.6" stroke="#111" stroke-width="1.4"/>
<line x1="477.52" y1="936.8" x2="477.52" y2="939.8" stroke="#111" stroke-width="1.4"/>
<line x1="498.84" y1="1211.6" x2="498.84" y2="1208.6" stroke="#111" stroke-width="1.4"/>
<line x1="498.84" y1="936.8" x2="498.84" y2="939.8" stroke="#111" stroke-width="1.4"/>
<line x1="520.16" y1="1211.6" x2="520.16" y2="1208.6" stroke="#111" stroke-width="1.4"/>
<line x1="520.16" y1="936.8" x2="520.16" y2="939.8" stroke="#111" stroke-width="1.4"/>
<line x1="541.48" y1="1211.6" x2="541.48" y2="1208.6" stroke="#111" stroke-width="1.4"/>
<line x1="541.48" y1="936.8" x2="541.48" y2="939.8" stroke="#111" stroke-width="1.4"/>
<line x1="562.80" y1="1211.6" x2="562.80" y2="1208.6" stroke="#111" stroke-width="1.4"/>
<line x1="562.80" y1="936.8" x2="562.80" y2="939.8" stroke="#111" stroke-width="1.4"/>
<line x1="584.12" y1="1211.6" x2="584.12" y2="1208.6" stroke="#111" stroke-width="1.4"/>
<line x1="584.12" y1="936.8" x2="584.12" y2="939.8" stroke="#111" stroke-width="1.4"/>
<line x1="605.44" y1="1211.6" x2="605.44" y2="1208.6" stroke="#111" stroke-width="1.4"/>
<line x1="605.44" y1="936.8" x2="605.44" y2="939.8" stroke="#111" stroke-width="1.4"/>
<line x1="626.76" y1="1211.6" x2="626.76" y2="1208.6" stroke="#111" stroke-width="1.4"/>
<line x1="626.76" y1="936.8" x2="626.76" y2="939.8" stroke="#111" stroke-width="1.4"/>
<line x1="648.08" y1="1211.6" x2="648.08" y2="1208.6" stroke="#111" stroke-width="1.4"/>
<line x1="648.08" y1="936.8" x2="648.08" y2="939.8" stroke="#111" stroke-width="1.4"/>
<line x1="669.40" y1="1211.6" x2="669.40" y2="1205.6" stroke="#111" stroke-width="1.4"/>
<line x1="669.40" y1="936.8" x2="669.40" y2="942.8" stroke="#111" stroke-width="1.4"/>
<line x1="690.72" y1="1211.6" x2="690.72" y2="1208.6" stroke="#111" stroke-width="1.4"/>
<line x1="690.72" y1="936.8" x2="690.72" y2="939.8" stroke="#111" stroke-width="1.4"/>
<line x1="712.04" y1="1211.6" x2="712.04" y2="1208.6" stroke="#111" stroke-width="1.4"/>
<line x1="712.04" y1="936.8" x2="712.04" y2="939.8" stroke="#111" stroke-width="1.4"/>
<line x1="733.36" y1="1211.6" x2="733.36" y2="1208.6" stroke="#111" stroke-width="1.4"/>
<line x1="733.36" y1="936.8" x2="733.36" y2="939.8" stroke="#111" stroke-width="1.4"/>
<line x1="754.68" y1="1211.6" x2="754.68" y2="1208.6" stroke="#111" stroke-width="1.4"/>
<line x1="754.68" y1="936.8" x2="754.68" y2="939.8" stroke="#111" stroke-width="1.4"/>
<line x1="776.00" y1="1211.6" x2="776.00" y2="1208.6" stroke="#111" stroke-width="1.4"/>
<line x1="776.00" y1="936.8" x2="776.00" y2="939.8" stroke="#111" stroke-width="1.4"/>
<line x1="797.32" y1="1211.6" x2="797.32" y2="1208.6" stroke="#111" stroke-width="1.4"/>
<line x1="797.32" y1="936.8" x2="797.32" y2="939.8" stroke="#111" stroke-width="1.4"/>
<line x1="818.64" y1="1211.6" x2="818.64" y2="1208.6" stroke="#111" stroke-width="1.4"/>
<line x1="818.64" y1="936.8" x2="818.64" y2="939.8" stroke="#111" stroke-width="1.4"/>
<line x1="839.96" y1="1211.6" x2="839.96" y2="1208.6" stroke="#111" stroke-width="1.4"/>
<line x1="839.96" y1="936.8" x2="839.96" y2="939.8" stroke="#111" stroke-width="1.4"/>
<line x1="861.28" y1="1211.6" x2="861.28" y2="1208.6" stroke="#111" stroke-width="1.4"/>
<line x1="861.28" y1="936.8" x2="861.28" y2="939.8" stroke="#111" stroke-width="1.4"/>
<line x1="882.60" y1="1211.6" x2="882.60" y2="1205.6" stroke="#111" stroke-width="1.4"/>
<line x1="882.60" y1="936.8" x2="882.60" y2="942.8" stroke="#111" stroke-width="1.4"/>
<line x1="903.92" y1="1211.6" x2="903.92" y2="1208.6" stroke="#111" stroke-width="1.4"/>
<line x1="903.92" y1="936.8" x2="903.92" y2="939.8" stroke="#111" stroke-width="1.4"/>
<defs><clipPath id="pc"><rect x="154.7" y="3.8" width="770.80" height="274.50"/><rect x="154.2" y="310.9" width="770.80" height="276.50"/><rect x="155.1" y="625.1" width="770.90" height="274.00"/><rect x="155.4" y="936.8" width="770.30" height="274.80"/></clipPath></defs>
<g clip-path="url(#pc)"><polyline points="154.7,138.9 171.3,137.7 185.4,136.9 203.2,135.9 214.4,135.1" fill="none" stroke="#111" stroke-width="5" stroke-linejoin="round" stroke-linecap="butt"/>
<polyline points="216.8,134.8 226.8,133.9 238.6,132.0 250.4,129.4 259.9,128.3 266.8,126.5 274.0,124.5 280.0,123.5" fill="none" stroke="#111" stroke-width="5.3" stroke-linejoin="round" stroke-linecap="butt"/>
<polygon points="279.0,120.7 286.9,119.4 292.9,117.7 297.2,116.0 304.1,113.4 310.1,108.3 315.2,101.4 318.7,99.7 324.7,92.8 331.5,87.2 334.1,86.8 338.4,82.5 341.2,79.0 341.3,63.6 346.4,63.2 346.4,79.9 341.3,85.1 341.2,87.0 338.4,91.1 334.1,99.7 331.5,98.0 324.7,101.4 318.7,105.7 315.2,110.0 310.1,115.1 304.1,121.2 297.2,121.2 292.9,123.7 286.9,125.9 279.0,126.3" fill="#111" stroke="#111" stroke-width="1" stroke-linejoin="round"/>
<polygon points="350.6,126.3 354.8,126.3 354.8,149.0 360.0,149.0 360.0,180.5 352.0,180.5 350.6,176.0" fill="#111" stroke="#111" stroke-width="1.2" stroke-linejoin="round"/>
<polygon points="359.5,115.0 364.8,115.0 364.8,143.0 369.5,145.2 372.0,144.0 373.1,136.9 377.5,136.9 378.5,146.0 380.0,152.0 381.5,164.0 379.5,173.0 377.0,160.0 373.0,157.0 369.5,162.0 365.0,163.0 359.5,153.0" fill="#111" stroke="#111" stroke-width="1.2" stroke-linejoin="round"/>
<polygon points="380.5,164.1 387.3,162.9 393.2,164.7 399.1,167.6 405.0,171.2 410.9,174.1 416.8,178.8 422.7,181.8 426.2,180.0 428.6,185.3 434.5,183.6 440.4,180.6 446.3,177.7 449.7,176.5 454.5,180.6 460.4,173.5 466.3,174.1 472.2,180.6 476.9,186.5 481.6,187.7 485.8,178.8 493.4,176.5 499.3,181.8 505.3,178.8 512.3,179.4 518.3,180.6 523.0,174.7 526.5,164.1 530.1,167.6 538.3,165.8 544.2,170.6 549.0,167.6 553.5,159.1 559.5,164.4 565.4,160.8 571.3,161.4 575.4,156.1 580.7,159.1 585.4,164.4 590.2,169.7 596.1,173.3 600.8,168.5 605.5,160.8 605.5,170.9 600.8,180.3 596.1,180.9 590.2,179.2 585.4,173.3 580.7,167.3 575.4,165.6 571.3,168.5 565.4,170.9 559.5,170.9 553.5,168.5 549.0,176.5 544.2,177.1 538.3,172.3 530.1,174.1 526.5,178.3 523.0,185.3 518.3,192.4 512.3,188.9 505.3,192.4 499.3,191.2 493.4,190.1 485.8,192.4 481.6,199.5 476.9,198.3 472.2,191.2 466.3,187.7 460.4,186.5 454.5,190.1 449.7,185.3 446.3,185.3 440.4,188.3 434.5,190.1 428.6,194.2 426.2,190.1 422.7,188.3 416.8,186.5 410.9,184.2 405.0,180.6 399.1,181.8 393.2,173.5 387.3,171.2 380.5,172.9" fill="#111" stroke="#111" stroke-width="1" stroke-linejoin="round"/>
<polygon points="606.7,143.1 612.6,134.9 618.5,139.0 623.3,126.0 628.0,130.7 632.7,136.6 638.6,141.4 644.5,137.8 650.4,137.8 656.3,131.3 660.0,132.5 660.0,139.0 656.3,140.2 650.4,144.9 644.5,144.9 638.6,148.4 632.7,143.7 628.0,139.0 623.3,135.4 618.5,144.9 612.6,147.3 606.7,152.6" fill="#111" stroke="#111" stroke-width="1" stroke-linejoin="round"/>
<polyline points="660.0,135.3 662.1,135.3 666.8,125.9 671.5,123.5 677.4,127.1 683.4,123.5 689.3,127.7 695.2,117.0 698.7,117.6 705.2,151.9 707.0,130.6 709.3,147.2 710.5,135.3 716.4,128.8 720.0,130.6 722.3,137.7 725.9,134.2 733.0,136.5 737.7,163.7 740.1,154.2 741.8,175.5 744.2,116.4 747.2,110.5 749.5,88.1 753.1,68.0 757.8,66.0" fill="none" stroke="#111" stroke-width="5" stroke-linejoin="round" stroke-linecap="butt"/>
<polygon points="751.9,68.0 756.0,65.0 760.2,64.5 760.2,83.4 756.0,83.4 751.9,83.4" fill="#111" stroke="#111" stroke-width="1" stroke-linejoin="round"/>
<polygon points="763.3,82.8 767.7,82.8 768.9,72.7 772.4,72.7 775.4,86.9 778.9,102.8 783.0,102.8 788.9,110.5 794.3,103.4 800.8,99.3 804.9,110.5 809.6,97.5 813.2,102.3 816.7,115.3 821.4,114.1 826.2,107.6 832.1,109.3 836.8,117.6 842.7,123.5 847.4,124.7 852.2,130.0 858.1,131.8 860.0,132.9 862.7,127.5 867.2,127.5 869.9,136.7 877.5,138.2 884.0,138.6 884.0,143.2 877.5,142.8 869.9,141.3 867.2,140.5 862.7,140.5 860.0,138.2 858.1,137.7 852.2,135.3 847.4,130.6 842.7,129.4 836.8,124.7 832.1,122.3 826.2,124.7 821.4,127.1 816.7,125.9 813.2,118.8 809.6,115.3 804.9,122.3 800.8,115.3 794.3,114.1 788.9,121.8 783.0,114.1 778.9,116.4 775.4,111.7 772.4,84.5 768.9,89.3 767.7,108.2 763.3,108.2" fill="#111" stroke="#111" stroke-width="1" stroke-linejoin="round"/>
<polygon points="886.0,137.5 898.1,139.4 913.4,139.4 924.8,139.4 924.8,143.2 913.4,143.6 898.1,143.2 886.0,142.4" fill="#111" stroke="#111" stroke-width="1" stroke-linejoin="round"/>
<polyline points="154.5,446.9 176.9,445.9 203.7,443.2 230.6,439.7 257.4,435.6 278.9,430.8 290.0,427.8 300.7,422.4 311.5,415.4 321.1,409.5 326.5,412.2 333.0,416.5 340.5,422.4 348.0,429.4 354.4,436.4 359.8,442.8 365.2,450.9 370.6,459.4 375.9,469.1 381.3,472.3 390.0,474.6 396.0,476.5 404.1,482.6 416.1,486.5 431.1,489.5 446.2,493.2 467.2,493.8 485.3,491.1 506.3,487.1 521.4,485.0 528.9,484.7 533.4,481.1 548.4,478.1 566.5,472.1 584.5,466.7 602.6,461.6 620.6,456.5 632.6,451.7 641.7,445.0 649.4,441.9 665.0,439.4 686.9,436.6 699.4,437.8 711.9,443.4 721.3,439.4 733.8,435.0 746.3,425.3 761.9,416.9 772.8,407.5 786.9,413.8 802.5,420.0 818.1,423.8 833.8,430.0 852.5,437.2 868.1,443.4 883.8,447.2 905.6,448.8 924.5,448.8" fill="none" stroke="#111" stroke-width="4.3" stroke-linejoin="round" stroke-linecap="butt"/>
<polyline points="155.0,761.7 197.3,762.1 209.0,762.3 214.4,762.2" fill="none" stroke="#111" stroke-width="4.8" stroke-linejoin="round" stroke-linecap="butt"/>
<polyline points="216.8,762.0 220.9,761.5 232.7,763.8 244.5,763.0 255.0,762.1 264.5,763.8 273.9,760.3 283.4,762.1 291.6,766.2 296.4,763.8 304.0,768.0 310.5,764.4 316.4,760.3 320.6,762.1 324.0,757.0" fill="none" stroke="#111" stroke-width="5.2" stroke-linejoin="round" stroke-linecap="butt"/>
<polygon points="323.0,752.0 325.9,749.5 330.6,742.0 335.3,739.0 337.7,733.0 341.2,726.0 343.0,718.0 343.0,730.0 341.2,735.0 337.7,743.0 335.3,752.0 330.6,752.0 325.9,759.5 323.0,762.0" fill="#111" stroke="#111" stroke-width="1" stroke-linejoin="round"/>
<polygon points="341.8,708.3 346.6,708.3 346.6,724.3 341.8,724.3" fill="#111" stroke="#111" stroke-width="1" stroke-linejoin="round"/>
<polygon points="351.3,761.4 355.4,761.4 356.0,776.7 359.5,776.7 359.5,811.6 356.0,811.6 355.4,811.6 351.3,811.6" fill="#111" stroke="#111" stroke-width="1" stroke-linejoin="round"/>
<polygon points="360.1,737.7 364.8,737.7 365.2,755.4 369.5,755.4 372.8,752.0 373.4,740.5 377.6,740.5 378.4,754.3 380.2,755.4 387.3,757.8 393.2,760.8 400.3,761.4 405.0,759.0 410.9,758.4 416.8,761.4 422.7,763.7 427.4,760.8 432.2,763.7 436.9,761.9 442.8,757.8 445.0,755.4 449.7,754.3 454.5,759.0 461.5,748.9 467.4,750.7 473.4,757.8 478.1,763.7 482.8,767.3 486.4,757.8 494.6,756.0 500.5,762.5 507.6,761.9 513.5,762.5 517.7,764.9 523.0,759.0 526.5,748.9 530.1,754.9 536.0,754.3 541.9,757.8 547.8,761.4 552.5,751.3 554.7,751.0 559.5,758.7 565.4,757.0 571.3,758.7 575.4,755.2 580.7,760.5 585.4,767.0 590.2,772.9 597.3,777.6 602.0,774.1 606.2,768.2 606.2,776.4 602.0,785.9 597.3,785.3 590.2,782.3 585.4,776.4 580.7,768.2 575.4,764.6 571.3,765.8 565.4,767.0 559.5,764.6 554.7,761.1 552.5,760.8 547.8,768.4 541.9,764.3 536.0,760.8 530.1,759.6 526.5,761.4 523.0,769.6 517.7,777.3 513.5,774.3 507.6,772.0 500.5,773.8 494.6,772.0 486.4,776.7 482.8,781.4 478.1,777.9 473.4,773.2 467.4,763.7 461.5,764.9 454.5,767.3 449.7,762.5 445.0,763.7 442.8,767.3 436.9,770.8 432.2,772.0 427.4,774.3 422.7,768.4 416.8,769.6 410.9,770.2 405.0,769.6 400.3,772.0 393.2,768.4 387.3,767.3 380.2,772.0 378.4,770.8 377.6,770.8 373.4,771.0 372.8,772.0 369.5,777.9 365.2,777.9 364.8,770.8 360.1,770.8" fill="#111" stroke="#111" stroke-width="1" stroke-linejoin="round"/>
<polygon points="606.9,750.4 612.6,744.0 618.5,748.1 623.3,738.6 628.0,744.5 632.7,754.0 637.4,763.4 643.3,764.6 648.1,764.6 654.0,761.1 656.0,760.5 656.0,768.0 654.0,770.5 648.1,771.7 643.3,772.9 637.4,770.5 632.7,762.3 628.0,752.8 623.3,749.3 618.5,757.0 612.6,757.5 606.9,761.1" fill="#111" stroke="#111" stroke-width="1" stroke-linejoin="round"/>
<polyline points="655.0,765.0 658.5,762.0 662.7,765.6 666.8,756.7 672.7,754.9 678.0,759.1 683.4,756.1 689.3,760.3 695.2,749.6 698.7,750.8 704.6,775.6 707.0,778.0 708.2,760.3 711.7,759.1 715.3,756.1 719.4,758.5 722.3,767.9 725.9,768.5 733.0,770.9 735.3,776.8 737.7,801.6 739.5,794.5 741.8,816.4 744.2,759.1 746.0,757.9 748.3,737.8 750.7,729.5 753.1,716.5" fill="none" stroke="#111" stroke-width="5" stroke-linejoin="round" stroke-linecap="butt"/>
<polygon points="752.5,716.0 756.0,715.4 760.7,715.4 760.7,734.3 756.0,734.3 752.5,734.3" fill="#111" stroke="#111" stroke-width="1" stroke-linejoin="round"/>
<polygon points="763.5,737.8 767.7,737.8 768.9,732.5 773.0,732.5 775.4,747.3 778.9,761.4 783.0,762.0 788.9,766.2 794.3,757.9 800.8,750.2 805.5,760.3 810.2,745.5 814.3,752.0 817.9,762.6 822.6,760.3 826.2,750.8 832.1,754.3 838.0,757.3 842.7,759.1 846.8,757.9 852.2,761.4 859.2,761.4 861.0,761.3 862.3,753.7 867.2,753.7 871.4,761.3 882.9,760.9 884.2,760.9 884.2,765.5 882.9,765.5 871.4,766.3 867.2,767.0 862.3,767.0 861.0,767.0 859.2,767.3 852.2,767.3 846.8,763.8 842.7,765.0 838.0,763.8 832.1,765.0 826.2,768.5 822.6,772.7 817.9,772.7 814.3,763.8 810.2,766.2 805.5,771.5 800.8,767.3 794.3,770.9 788.9,776.8 783.0,775.6 778.9,777.4 775.4,774.4 773.0,747.3 768.9,747.3 767.7,762.6 763.5,762.6" fill="#111" stroke="#111" stroke-width="1" stroke-linejoin="round"/>
<polygon points="886.3,759.4 913.4,760.2 925.2,759.8 925.2,764.4 913.4,764.4 886.3,764.0" fill="#111" stroke="#111" stroke-width="1" stroke-linejoin="round"/>
<polygon points="313.3,1067.8 321.1,1054.4 324.4,1040.0 327.8,1031.1 328.9,1024.4 335.0,1006.7 337.8,997.8 342.2,992.2 346.7,993.3 345.6,1000.0 341.1,1010.0 340.0,1021.1 336.7,1035.6 333.3,1037.8 332.2,1048.9 327.8,1057.8 326.7,1064.4 324.4,1071.1 318.0,1085.0 310.0,1097.0 303.0,1104.0 296.0,1100.0 300.0,1088.0 306.0,1078.0" fill="#111" stroke="#111" stroke-width="1.2" stroke-linejoin="round"/>
<polygon points="155.5,1066.0 170.0,1064.0 185.0,1066.0 200.0,1067.0 215.0,1065.0 230.0,1066.0 245.0,1066.0 260.0,1067.0 272.0,1068.0 282.0,1072.0 290.0,1080.0 297.0,1086.0 304.0,1084.0 310.0,1076.0 312.0,1094.0 304.0,1102.0 297.0,1107.0 290.0,1106.0 282.0,1098.0 272.0,1090.0 260.0,1088.0 245.0,1090.0 230.0,1094.0 215.0,1093.0 200.0,1094.0 185.0,1092.0 170.0,1090.0 155.5,1090.0" fill="#111" stroke="#111" stroke-width="1.2" stroke-linejoin="round"/>
<line x1="158" y1="1060" x2="161" y2="1096" stroke="#111" stroke-width="8" stroke-linecap="round"/>
<line x1="165" y1="1058" x2="166" y2="1098" stroke="#111" stroke-width="8" stroke-linecap="round"/>
<line x1="172" y1="1057" x2="185" y2="1097" stroke="#111" stroke-width="8" stroke-linecap="round"/>
<line x1="179" y1="1060" x2="190" y2="1096" stroke="#111" stroke-width="8" stroke-linecap="round"/>
<line x1="191" y1="1060" x2="206" y2="1104" stroke="#111" stroke-width="8" stroke-linecap="round"/>
<line x1="199" y1="1062" x2="212" y2="1100" stroke="#111" stroke-width="8" stroke-linecap="round"/>
<line x1="207" y1="1070" x2="216" y2="1096" stroke="#111" stroke-width="8" stroke-linecap="round"/>
<line x1="221" y1="1058" x2="235" y2="1102" stroke="#111" stroke-width="8" stroke-linecap="round"/>
<line x1="228" y1="1062" x2="240" y2="1100" stroke="#111" stroke-width="8" stroke-linecap="round"/>
<line x1="236" y1="1064" x2="246" y2="1096" stroke="#111" stroke-width="8" stroke-linecap="round"/>
<line x1="249" y1="1060" x2="266" y2="1094" stroke="#111" stroke-width="8" stroke-linecap="round"/>
<line x1="257" y1="1062" x2="270" y2="1092" stroke="#111" stroke-width="8" stroke-linecap="round"/>
<line x1="264" y1="1064" x2="274" y2="1088" stroke="#111" stroke-width="8" stroke-linecap="round"/>
<line x1="276" y1="1059" x2="293" y2="1106" stroke="#111" stroke-width="8" stroke-linecap="round"/>
<line x1="283" y1="1066" x2="300" y2="1104" stroke="#111" stroke-width="8" stroke-linecap="round"/>
<polygon points="341.1,972.2 344.4,969.3 347.7,972.2 344.4,975.1" fill="none" stroke="#111" stroke-width="2.5" stroke-linejoin="round"/>
<polygon points="340.6,979.4 343.9,976.5 347.2,979.4 343.9,982.3" fill="none" stroke="#111" stroke-width="2.5" stroke-linejoin="round"/>
<polygon points="340.6,986.1 343.9,983.2 347.2,986.1 343.9,989.0" fill="none" stroke="#111" stroke-width="2.5" stroke-linejoin="round"/>
<polygon points="342.3,990.0 345.6,987.1 348.9,990.0 345.6,992.9" fill="none" stroke="#111" stroke-width="2.5" stroke-linejoin="round"/>
<polygon points="358.9,946.2 362.2,943.3 365.5,946.2 362.2,949.1" fill="none" stroke="#111" stroke-width="2.5" stroke-linejoin="round"/>
<polygon points="361.3,956.3 364.6,953.4 367.9,956.3 364.6,959.2" fill="none" stroke="#111" stroke-width="2.5" stroke-linejoin="round"/>
<polygon points="362.5,962.8 365.8,959.9 369.1,962.8 365.8,965.7" fill="none" stroke="#111" stroke-width="2.5" stroke-linejoin="round"/>
<polygon points="359.5,966.6 362.8,963.7 366.1,966.6 362.8,969.5" fill="none" stroke="#111" stroke-width="2.5" stroke-linejoin="round"/>
<polygon points="365.2,1017.1 368.5,1014.2 371.8,1017.1 368.5,1020.0" fill="none" stroke="#111" stroke-width="2.5" stroke-linejoin="round"/>
<polygon points="365.6,1031.9 368.9,1029.0 372.2,1031.9 368.9,1034.8" fill="none" stroke="#111" stroke-width="2.5" stroke-linejoin="round"/>
<polygon points="366.1,1039.3 369.4,1036.4 372.7,1039.3 369.4,1042.2" fill="none" stroke="#111" stroke-width="2.5" stroke-linejoin="round"/>
<polygon points="349.2,1064.0 352.5,1061.1 355.8,1064.0 352.5,1066.9" fill="none" stroke="#111" stroke-width="2.5" stroke-linejoin="round"/>
<polygon points="369.4,1066.7 372.7,1063.8 376.0,1066.7 372.7,1069.6" fill="none" stroke="#111" stroke-width="2.5" stroke-linejoin="round"/>
<polygon points="369.4,1079.1 372.7,1076.2 376.0,1079.1 372.7,1082.0" fill="none" stroke="#111" stroke-width="2.5" stroke-linejoin="round"/>
<polygon points="387.7,1092.1 391.0,1089.2 394.3,1092.1 391.0,1095.0" fill="none" stroke="#111" stroke-width="2.5" stroke-linejoin="round"/>
<polygon points="368.3,1125.3 371.6,1122.4 374.9,1125.3 371.6,1128.2" fill="none" stroke="#111" stroke-width="2.5" stroke-linejoin="round"/>
<polygon points="367.5,1132.1 370.8,1129.2 374.1,1132.1 370.8,1135.0" fill="none" stroke="#111" stroke-width="2.5" stroke-linejoin="round"/>
<polygon points="375.0,1136.6 378.3,1133.7 381.6,1136.6 378.3,1139.5" fill="none" stroke="#111" stroke-width="2.5" stroke-linejoin="round"/>
<polygon points="371.3,1148.6 374.6,1145.7 377.9,1148.6 374.6,1151.5" fill="none" stroke="#111" stroke-width="2.5" stroke-linejoin="round"/>
<polygon points="375.8,1150.2 379.1,1147.3 382.4,1150.2 379.1,1153.1" fill="none" stroke="#111" stroke-width="2.5" stroke-linejoin="round"/>
<polygon points="367.5,1154.7 370.8,1151.8 374.1,1154.7 370.8,1157.6" fill="none" stroke="#111" stroke-width="2.5" stroke-linejoin="round"/>
<polygon points="363.3,974.2 366.8,970.5 370.3,974.2 366.8,978.0" fill="#111" stroke="#111" stroke-width="2.4" stroke-linejoin="round"/>
<polygon points="376.0,1044.0 378.0,1040.5 382.0,1040.7 384.0,1050.0 388.0,1048.0 392.0,1046.5 399.9,1046.6 403.0,1051.0 407.0,1053.7 416.4,1053.7 424.0,1049.0 428.3,1046.0 433.0,1048.0 437.7,1056.1 441.2,1065.5 447.2,1072.6 452.0,1062.0 455.4,1058.4 461.3,1063.2 464.0,1070.0 464.0,1090.0 461.3,1096.2 455.4,1097.4 447.2,1095.1 441.2,1090.3 437.7,1076.0 416.4,1076.0 407.0,1082.1 400.0,1076.0 390.4,1085.6 385.7,1083.3 381.0,1072.0 377.0,1070.0 374.0,1063.0 380.0,1060.0 381.0,1053.0" fill="#111" stroke="#111" stroke-width="1.2" stroke-linejoin="round"/>
<polygon points="460.0,1100.0 465.0,1097.0 474.5,1100.7 470.0,1105.0 466.0,1112.0 462.0,1110.0" fill="#111" stroke="#111" stroke-width="1.2" stroke-linejoin="round"/>
<polygon points="473.9,1036.0 478.0,1032.0 482.7,1027.5 487.0,1032.0 489.8,1040.0 488.0,1050.8 480.0,1051.5 474.0,1046.0" fill="#111" stroke="#111" stroke-width="1.2" stroke-linejoin="round"/>
<polygon points="470.9,1056.0 476.0,1051.4 482.0,1052.0 486.3,1060.0 486.3,1071.0 471.0,1071.0" fill="#111" stroke="#111" stroke-width="1.2" stroke-linejoin="round"/>
<polygon points="485.1,1052.0 492.0,1048.4 500.0,1038.0 503.7,1037.8 508.7,1043.7 515.0,1036.6 520.0,1037.0 526.4,1048.4 526.4,1060.0 522.0,1071.0 485.1,1071.0" fill="#111" stroke="#111" stroke-width="1.2" stroke-linejoin="round"/>
<polygon points="537.1,1064.0 543.0,1057.9 550.0,1058.0 553.0,1066.0 553.0,1071.0 537.1,1071.0" fill="#111" stroke="#111" stroke-width="1.2" stroke-linejoin="round"/>
<polygon points="558.3,1064.0 565.0,1057.9 572.0,1058.0 576.0,1062.0 576.0,1071.0 558.3,1071.0" fill="#111" stroke="#111" stroke-width="1.2" stroke-linejoin="round"/>
<polygon points="465.0,1077.1 474.5,1077.1 474.5,1095.0 470.0,1100.7 465.0,1098.0" fill="#111" stroke="#111" stroke-width="1.2" stroke-linejoin="round"/>
<polygon points="483.9,1077.1 492.0,1077.1 498.1,1084.0 496.0,1087.7 490.0,1086.0 484.0,1080.0" fill="#111" stroke="#111" stroke-width="1.2" stroke-linejoin="round"/>
<polygon points="518.2,1077.1 538.3,1077.1 543.0,1082.0 543.0,1100.0 537.0,1106.6 528.0,1104.0 524.7,1092.0 520.0,1085.0" fill="#111" stroke="#111" stroke-width="1.2" stroke-linejoin="round"/>
<polygon points="547.7,1077.1 559.5,1077.1 559.5,1090.0 555.0,1098.4 549.0,1096.0 547.7,1085.0" fill="#111" stroke="#111" stroke-width="1.2" stroke-linejoin="round"/>
<polygon points="561.9,1077.1 575.0,1077.1 583.0,1077.0 584.2,1085.0 578.0,1092.4 570.0,1093.6 562.0,1090.0" fill="#111" stroke="#111" stroke-width="1.2" stroke-linejoin="round"/>
<polygon points="491.2,1097.2 494.5,1094.3 497.8,1097.2 494.5,1100.1" fill="none" stroke="#111" stroke-width="2.5" stroke-linejoin="round"/>
<polygon points="463.5,1116.1 466.8,1113.2 470.1,1116.1 466.8,1119.0" fill="none" stroke="#111" stroke-width="2.5" stroke-linejoin="round"/>
<polygon points="522.5,1107.2 525.8,1104.3 529.1,1107.2 525.8,1110.1" fill="none" stroke="#111" stroke-width="2.5" stroke-linejoin="round"/>
<polygon points="522.5,1113.0 525.8,1110.1 529.1,1113.0 525.8,1115.9" fill="none" stroke="#111" stroke-width="2.5" stroke-linejoin="round"/>
<polygon points="522.5,1118.4 525.8,1115.5 529.1,1118.4 525.8,1121.3" fill="none" stroke="#111" stroke-width="2.5" stroke-linejoin="round"/>
<polygon points="523.1,1126.7 526.4,1123.8 529.7,1126.7 526.4,1129.6" fill="none" stroke="#111" stroke-width="2.5" stroke-linejoin="round"/>
<polygon points="551.5,1107.8 554.8,1104.9 558.1,1107.8 554.8,1110.7" fill="none" stroke="#111" stroke-width="2.5" stroke-linejoin="round"/>
<polygon points="551.5,1114.9 554.8,1112.0 558.1,1114.9 554.8,1117.8" fill="none" stroke="#111" stroke-width="2.5" stroke-linejoin="round"/>
<polygon points="551.5,1122.0 554.8,1119.1 558.1,1122.0 554.8,1124.9" fill="none" stroke="#111" stroke-width="2.5" stroke-linejoin="round"/>
<polygon points="563.3,1104.3 566.6,1101.4 569.9,1104.3 566.6,1107.2" fill="none" stroke="#111" stroke-width="2.5" stroke-linejoin="round"/>
<polygon points="572.6,1092.4 575.9,1089.5 579.2,1092.4 575.9,1095.3" fill="none" stroke="#111" stroke-width="2.5" stroke-linejoin="round"/>
<polygon points="567.3,1106.6 570.6,1103.7 573.9,1106.6 570.6,1109.5" fill="none" stroke="#111" stroke-width="2.5" stroke-linejoin="round"/>
<polygon points="456.4,1104.5 459.7,1101.6 463.0,1104.5 459.7,1107.4" fill="none" stroke="#111" stroke-width="2.5" stroke-linejoin="round"/>
<polygon points="463.5,1114.0 466.8,1111.1 470.1,1114.0 466.8,1116.9" fill="none" stroke="#111" stroke-width="2.5" stroke-linejoin="round"/>
<polygon points="560.0,1062.0 566.0,1058.0 573.0,1058.5 576.0,1064.0 576.0,1071.0 560.0,1071.0" fill="#111" stroke="#111" stroke-width="1.2" stroke-linejoin="round"/>
<polygon points="585.4,1011.8 593.6,994.1 600.7,990.0 605.4,996.4 609.0,1001.2 606.6,1005.9 610.2,1010.6 606.6,1013.0 599.5,1007.1 590.1,1016.5" fill="#111" stroke="#111" stroke-width="1.2" stroke-linejoin="round"/>
<polyline points="588.3,1023.0 586.5,1035.4 584.2,1043.7 581.2,1054.3" fill="none" stroke="#111" stroke-width="7" stroke-linejoin="round" stroke-linecap="round"/>
<polygon points="577.3,1061.4 580.6,1058.5 583.9,1061.4 580.6,1064.3" fill="none" stroke="#111" stroke-width="2.5" stroke-linejoin="round"/>
<polygon points="602.7,1033.7 606.0,1030.8 609.3,1033.7 606.0,1036.6" fill="none" stroke="#111" stroke-width="2.5" stroke-linejoin="round"/>
<polygon points="633.5,944.5 636.8,941.6 640.1,944.5 636.8,947.4" fill="none" stroke="#111" stroke-width="2.5" stroke-linejoin="round"/>
<polygon points="632.9,958.0 636.2,955.1 639.5,958.0 636.2,960.9" fill="none" stroke="#111" stroke-width="2.5" stroke-linejoin="round"/>
<polygon points="632.3,985.8 635.6,982.9 638.9,985.8 635.6,988.7" fill="none" stroke="#111" stroke-width="2.5" stroke-linejoin="round"/>
<polygon points="631.7,1010.6 635.0,1007.7 638.3,1010.6 635.0,1013.5" fill="none" stroke="#111" stroke-width="2.5" stroke-linejoin="round"/>
<polygon points="663.0,1032.5 666.3,1029.6 669.6,1032.5 666.3,1035.4" fill="none" stroke="#111" stroke-width="2.5" stroke-linejoin="round"/>
<polygon points="661.2,1047.8 664.5,1044.9 667.8,1047.8 664.5,1050.7" fill="none" stroke="#111" stroke-width="2.5" stroke-linejoin="round"/>
<polygon points="630.5,1151.5 633.8,1148.6 637.1,1151.5 633.8,1154.4" fill="none" stroke="#111" stroke-width="2.5" stroke-linejoin="round"/>
<polygon points="629.9,1194.6 633.2,1191.7 636.5,1194.6 633.2,1197.5" fill="none" stroke="#111" stroke-width="2.5" stroke-linejoin="round"/>
<ellipse cx="607.6" cy="1127.9" rx="4.4" ry="5.6" transform="rotate(0 607.6 1127.9)" fill="#111"/>
<polygon points="663.3,1021.2 670.4,1011.8 676.3,1013.0 681.0,1017.0 686.8,1025.0 686.0,1035.0 682.0,1041.3 676.0,1040.0 674.0,1037.8 672.8,1026.0 664.5,1025.0" fill="#111" stroke="#111" stroke-width="1.2" stroke-linejoin="round"/>
<polygon points="680.9,1043.0 685.0,1040.2 690.0,1045.0 693.9,1052.0 693.0,1060.0 688.0,1061.4 682.0,1055.0" fill="#111" stroke="#111" stroke-width="1.2" stroke-linejoin="round"/>
<polygon points="653.0,1070.0 660.0,1068.0 668.1,1078.0 666.0,1084.2 658.0,1080.0 653.0,1076.0" fill="#111" stroke="#111" stroke-width="1.2" stroke-linejoin="round"/>
<ellipse cx="656.2" cy="1092.4" rx="4.5" ry="5.5" transform="rotate(0 656.2 1092.4)" fill="#111"/>
<polyline points="654.5,1103.1 658.0,1111.0 662.7,1122.0" fill="none" stroke="#111" stroke-width="9" stroke-linejoin="round" stroke-linecap="round"/>
<ellipse cx="661.0" cy="1145.6" rx="4.5" ry="5.5" transform="rotate(0 661.0 1145.6)" fill="#111"/>
<polygon points="650.6,1181.1 653.9,1178.2 657.2,1181.1 653.9,1184.0" fill="none" stroke="#111" stroke-width="2.5" stroke-linejoin="round"/>
<polygon points="650.8,1187.0 654.1,1184.1 657.4,1187.0 654.1,1189.9" fill="none" stroke="#111" stroke-width="2.5" stroke-linejoin="round"/>
<polygon points="689.2,1008.0 692.0,1001.0 697.4,997.5 701.0,1001.0 702.2,1010.0 699.0,1017.7 692.0,1016.0" fill="#111" stroke="#111" stroke-width="1.2" stroke-linejoin="round"/>
<polygon points="709.9,1010.0 713.0,1005.3 718.0,1006.0 722.0,1015.0 723.4,1027.0 719.0,1030.7 713.0,1025.0 710.0,1018.0" fill="#111" stroke="#111" stroke-width="1.2" stroke-linejoin="round"/>
<polygon points="688.8,1019.0 692.1,1016.1 695.4,1019.0 692.1,1021.9" fill="none" stroke="#111" stroke-width="2.5" stroke-linejoin="round"/>
<polygon points="688.2,1025.4 691.5,1022.5 694.8,1025.4 691.5,1028.3" fill="none" stroke="#111" stroke-width="2.5" stroke-linejoin="round"/>
<polygon points="695.9,1029.5 699.2,1026.6 702.5,1029.5 699.2,1032.4" fill="none" stroke="#111" stroke-width="2.5" stroke-linejoin="round"/>
<polygon points="696.5,1039.0 699.8,1036.1 703.1,1039.0 699.8,1041.9" fill="none" stroke="#111" stroke-width="2.5" stroke-linejoin="round"/>
<polygon points="697.1,1052.6 700.4,1049.7 703.7,1052.6 700.4,1055.5" fill="none" stroke="#111" stroke-width="2.5" stroke-linejoin="round"/>
<polygon points="717.2,1055.5 720.5,1052.6 723.8,1055.5 720.5,1058.4" fill="none" stroke="#111" stroke-width="2.5" stroke-linejoin="round"/>
<polygon points="717.2,1062.0 720.5,1059.1 723.8,1062.0 720.5,1064.9" fill="none" stroke="#111" stroke-width="2.5" stroke-linejoin="round"/>
<polygon points="697.7,1077.7 701.0,1074.8 704.3,1077.7 701.0,1080.6" fill="none" stroke="#111" stroke-width="2.5" stroke-linejoin="round"/>
<polygon points="707.1,1081.2 710.4,1078.3 713.7,1081.2 710.4,1084.1" fill="none" stroke="#111" stroke-width="2.5" stroke-linejoin="round"/>
<polygon points="743.2,1080.6 746.5,1077.7 749.8,1080.6 746.5,1083.5" fill="none" stroke="#111" stroke-width="2.5" stroke-linejoin="round"/>
<polygon points="762.7,1079.5 766.0,1076.6 769.3,1079.5 766.0,1082.4" fill="none" stroke="#111" stroke-width="2.5" stroke-linejoin="round"/>
<polygon points="698.3,1127.9 701.6,1125.0 704.9,1127.9 701.6,1130.8" fill="none" stroke="#111" stroke-width="2.5" stroke-linejoin="round"/>
<polygon points="717.8,1162.7 721.1,1159.8 724.4,1162.7 721.1,1165.6" fill="none" stroke="#111" stroke-width="2.5" stroke-linejoin="round"/>
<polygon points="718.4,1175.7 721.7,1172.8 725.0,1175.7 721.7,1178.6" fill="none" stroke="#111" stroke-width="2.5" stroke-linejoin="round"/>
<polygon points="698.9,1184.0 702.2,1181.1 705.5,1184.0 702.2,1186.9" fill="none" stroke="#111" stroke-width="2.5" stroke-linejoin="round"/>
<polygon points="706.6,1187.0 709.9,1184.1 713.2,1187.0 709.9,1189.9" fill="none" stroke="#111" stroke-width="2.5" stroke-linejoin="round"/>
<polygon points="706.0,1200.6 709.3,1197.7 712.6,1200.6 709.3,1203.5" fill="none" stroke="#111" stroke-width="2.5" stroke-linejoin="round"/>
<polygon points="724.3,1200.0 727.6,1197.1 730.9,1200.0 727.6,1202.9" fill="none" stroke="#111" stroke-width="2.5" stroke-linejoin="round"/>
<ellipse cx="708.7" cy="1035.4" rx="4.5" ry="4.5" transform="rotate(0 708.7 1035.4)" fill="#111"/>
<ellipse cx="712.2" cy="1046.6" rx="4.5" ry="4.5" transform="rotate(0 712.2 1046.6)" fill="#111"/>
<ellipse cx="726.4" cy="1189.3" rx="4.5" ry="5.5" transform="rotate(0 726.4 1189.3)" fill="#111"/>
<ellipse cx="745.9" cy="1068.5" rx="5" ry="3.5" transform="rotate(0 745.9 1068.5)" fill="#111"/>
<polygon points="745.3,1000.0 748.0,990.0 752.0,984.6 760.0,986.0 762.4,992.0 757.0,1000.0 752.0,1009.4 747.0,1008.0" fill="#111" stroke="#111" stroke-width="1.2" stroke-linejoin="round"/>
<polyline points="760.0,1001.2 758.9,1008.8" fill="none" stroke="#111" stroke-width="6" stroke-linejoin="round" stroke-linecap="round"/>
<polygon points="762.4,1018.0 766.0,1011.8 772.0,1013.0 775.0,1022.0 779.0,1035.0 778.0,1045.0 772.0,1047.2 765.0,1042.0 768.0,1032.0 763.0,1025.0" fill="#111" stroke="#111" stroke-width="1.2" stroke-linejoin="round"/>
<polygon points="745.0,1023.6 748.3,1020.7 751.6,1023.6 748.3,1026.5" fill="none" stroke="#111" stroke-width="2.5" stroke-linejoin="round"/>
<polygon points="743.8,1039.0 747.1,1036.1 750.4,1039.0 747.1,1041.9" fill="none" stroke="#111" stroke-width="2.5" stroke-linejoin="round"/>
<polygon points="742.6,1045.5 745.9,1042.6 749.2,1045.5 745.9,1048.4" fill="none" stroke="#111" stroke-width="2.5" stroke-linejoin="round"/>
<polygon points="770.9,1054.9 774.2,1052.0 777.5,1054.9 774.2,1057.8" fill="none" stroke="#111" stroke-width="2.5" stroke-linejoin="round"/>
<polygon points="772.7,1068.5 776.0,1065.6 779.3,1068.5 776.0,1071.4" fill="none" stroke="#111" stroke-width="2.5" stroke-linejoin="round"/>
<polygon points="774.1,1083.0 777.4,1080.1 780.7,1083.0 777.4,1085.9" fill="none" stroke="#111" stroke-width="2.5" stroke-linejoin="round"/>
<polygon points="777.7,1087.2 781.0,1084.3 784.3,1087.2 781.0,1090.1" fill="none" stroke="#111" stroke-width="2.5" stroke-linejoin="round"/>
<polygon points="779.8,1092.6 783.1,1089.7 786.4,1092.6 783.1,1095.5" fill="none" stroke="#111" stroke-width="2.5" stroke-linejoin="round"/>
<polygon points="781.6,1096.5 784.9,1093.6 788.2,1096.5 784.9,1099.4" fill="none" stroke="#111" stroke-width="2.5" stroke-linejoin="round"/>
<polygon points="785.0,1099.8 788.3,1096.9 791.6,1099.8 788.3,1102.7" fill="none" stroke="#111" stroke-width="2.5" stroke-linejoin="round"/>
<polygon points="788.7,1102.8 792.0,1099.9 795.3,1102.8 792.0,1105.7" fill="none" stroke="#111" stroke-width="2.5" stroke-linejoin="round"/>
<polygon points="793.4,1109.0 796.7,1106.1 800.0,1109.0 796.7,1111.9" fill="none" stroke="#111" stroke-width="2.5" stroke-linejoin="round"/>
<polygon points="797.7,1111.0 801.0,1108.1 804.3,1111.0 801.0,1113.9" fill="none" stroke="#111" stroke-width="2.5" stroke-linejoin="round"/>
<polygon points="779.3,1095.2 782.6,1092.3 785.9,1095.2 782.6,1098.1" fill="none" stroke="#111" stroke-width="2.5" stroke-linejoin="round"/>
<polygon points="785.2,1101.3 788.5,1098.4 791.8,1101.3 788.5,1104.2" fill="none" stroke="#111" stroke-width="2.5" stroke-linejoin="round"/>
<polygon points="789.0,1103.7 792.3,1100.8 795.6,1103.7 792.3,1106.6" fill="none" stroke="#111" stroke-width="2.5" stroke-linejoin="round"/>
<polygon points="787.4,1107.1 790.7,1104.2 794.0,1107.1 790.7,1110.0" fill="none" stroke="#111" stroke-width="2.5" stroke-linejoin="round"/>
<polygon points="784.0,1112.4 787.3,1109.5 790.6,1112.4 787.3,1115.3" fill="none" stroke="#111" stroke-width="2.5" stroke-linejoin="round"/>
<polygon points="777.4,1116.9 780.7,1114.0 784.0,1116.9 780.7,1119.8" fill="none" stroke="#111" stroke-width="2.5" stroke-linejoin="round"/>
<polygon points="777.0,1122.9 780.3,1120.0 783.6,1122.9 780.3,1125.8" fill="none" stroke="#111" stroke-width="2.5" stroke-linejoin="round"/>
<polygon points="775.6,1126.2 778.9,1123.3 782.2,1126.2 778.9,1129.1" fill="none" stroke="#111" stroke-width="2.5" stroke-linejoin="round"/>
<polygon points="776.2,1130.6 779.5,1127.7 782.8,1130.6 779.5,1133.5" fill="none" stroke="#111" stroke-width="2.5" stroke-linejoin="round"/>
<polygon points="774.9,1134.7 778.2,1131.8 781.5,1134.7 778.2,1137.6" fill="none" stroke="#111" stroke-width="2.5" stroke-linejoin="round"/>
<polygon points="775.7,1143.0 779.0,1140.1 782.3,1143.0 779.0,1145.9" fill="none" stroke="#111" stroke-width="2.5" stroke-linejoin="round"/>
<polygon points="785.1,1116.1 788.4,1113.2 791.7,1116.1 788.4,1119.0" fill="none" stroke="#111" stroke-width="2.5" stroke-linejoin="round"/>
<polygon points="792.3,1121.8 795.6,1118.9 798.9,1121.8 795.6,1124.7" fill="none" stroke="#111" stroke-width="2.5" stroke-linejoin="round"/>
<polygon points="789.0,1126.3 792.3,1123.4 795.6,1126.3 792.3,1129.2" fill="none" stroke="#111" stroke-width="2.5" stroke-linejoin="round"/>
<polygon points="787.5,1129.4 790.8,1126.5 794.1,1129.4 790.8,1132.3" fill="none" stroke="#111" stroke-width="2.5" stroke-linejoin="round"/>
<polygon points="784.7,1137.0 788.0,1134.1 791.3,1137.0 788.0,1139.9" fill="none" stroke="#111" stroke-width="2.5" stroke-linejoin="round"/>
<ellipse cx="782.0" cy="1090.0" rx="5" ry="5" transform="rotate(0 782.0 1090.0)" fill="#111"/>
<ellipse cx="789.0" cy="1106.0" rx="4" ry="5" transform="rotate(-35 789.0 1106.0)" fill="#111"/>
<polygon points="762.2,1079.8 765.5,1076.9 768.8,1079.8 765.5,1082.7" fill="none" stroke="#111" stroke-width="2.5" stroke-linejoin="round"/>
<polygon points="791.0,1084.0 795.0,1079.5 799.0,1084.0 795.0,1088.5" fill="#111" stroke="#111" stroke-width="2.4" stroke-linejoin="round"/>
<polygon points="827.8,1082.6 831.1,1079.7 834.4,1082.6 831.1,1085.5" fill="none" stroke="#111" stroke-width="2.5" stroke-linejoin="round"/>
<polygon points="821.8,1086.2 825.1,1083.3 828.4,1086.2 825.1,1089.1" fill="none" stroke="#111" stroke-width="2.5" stroke-linejoin="round"/>
<polygon points="818.8,1091.1 822.1,1088.2 825.4,1091.1 822.1,1094.0" fill="none" stroke="#111" stroke-width="2.5" stroke-linejoin="round"/>
<polygon points="815.5,1093.4 818.8,1090.5 822.1,1093.4 818.8,1096.3" fill="none" stroke="#111" stroke-width="2.5" stroke-linejoin="round"/>
<polygon points="812.4,1096.9 815.7,1094.0 819.0,1096.9 815.7,1099.8" fill="none" stroke="#111" stroke-width="2.5" stroke-linejoin="round"/>
<polygon points="807.4,1101.8 810.7,1098.9 814.0,1101.8 810.7,1104.7" fill="none" stroke="#111" stroke-width="2.5" stroke-linejoin="round"/>
<polygon points="804.7,1104.0 808.0,1101.1 811.3,1104.0 808.0,1106.9" fill="none" stroke="#111" stroke-width="2.5" stroke-linejoin="round"/>
<polygon points="807.4,1080.0 810.7,1077.1 814.0,1080.0 810.7,1082.9" fill="none" stroke="#111" stroke-width="2.5" stroke-linejoin="round"/>
<polygon points="810.0,1084.5 813.3,1081.6 816.6,1084.5 813.3,1087.4" fill="none" stroke="#111" stroke-width="2.5" stroke-linejoin="round"/>
<polygon points="814.7,1088.0 818.0,1085.1 821.3,1088.0 818.0,1090.9" fill="none" stroke="#111" stroke-width="2.5" stroke-linejoin="round"/>
<ellipse cx="814.1" cy="1106.7" rx="4.5" ry="4.5" transform="rotate(0 814.1 1106.7)" fill="#111"/>
<polygon points="813.3,1120.3 816.6,1117.4 819.9,1120.3 816.6,1123.2" fill="none" stroke="#111" stroke-width="2.5" stroke-linejoin="round"/>
<ellipse cx="806.7" cy="1122.8" rx="4.6" ry="4.6" transform="rotate(0 806.7 1122.8)" fill="#111"/>
<polygon points="838.8,1077.1 853.0,1077.1 853.0,1086.0 848.0,1090.1 840.0,1085.0" fill="#111" stroke="#111" stroke-width="1.2" stroke-linejoin="round"/>
<ellipse cx="852.4" cy="1101.3" rx="5" ry="4.5" transform="rotate(0 852.4 1101.3)" fill="#111"/>
<polygon points="848.3,1112.0 852.0,1107.8 860.0,1110.0 863.6,1118.0 860.0,1124.3 853.0,1122.0 849.0,1116.0" fill="#111" stroke="#111" stroke-width="1.2" stroke-linejoin="round"/>
<polygon points="853.0,1132.0 858.0,1127.9 864.8,1130.0 864.8,1138.0 858.0,1142.1 854.0,1138.0" fill="#111" stroke="#111" stroke-width="1.2" stroke-linejoin="round"/>
<ellipse cx="789.2" cy="1153.9" rx="4.5" ry="5" transform="rotate(0 789.2 1153.9)" fill="#111"/>
<ellipse cx="818.7" cy="1179.3" rx="6" ry="4.8" transform="rotate(0 818.7 1179.3)" fill="#111"/>
<polygon points="813.7,1120.2 817.0,1117.3 820.3,1120.2 817.0,1123.1" fill="none" stroke="#111" stroke-width="2.5" stroke-linejoin="round"/>
<polygon points="818.4,1153.3 821.7,1150.4 825.0,1153.3 821.7,1156.2" fill="none" stroke="#111" stroke-width="2.5" stroke-linejoin="round"/>
<polygon points="858.5,1165.1 861.8,1162.2 865.1,1165.1 861.8,1168.0" fill="none" stroke="#111" stroke-width="2.5" stroke-linejoin="round"/>
<polygon points="848.5,1179.9 851.8,1177.0 855.1,1179.9 851.8,1182.8" fill="none" stroke="#111" stroke-width="2.5" stroke-linejoin="round"/>
<polygon points="869.8,1205.9 873.1,1203.0 876.4,1205.9 873.1,1208.8" fill="none" stroke="#111" stroke-width="2.5" stroke-linejoin="round"/>
<polygon points="848.8,1180.1 852.1,1177.2 855.4,1180.1 852.1,1183.0" fill="none" stroke="#111" stroke-width="2.5" stroke-linejoin="round"/>
<polygon points="883.8,1113.5 887.1,1110.6 890.4,1113.5 887.1,1116.4" fill="none" stroke="#111" stroke-width="2.5" stroke-linejoin="round"/>
<polygon points="883.2,1122.6 886.5,1119.7 889.8,1122.6 886.5,1125.5" fill="none" stroke="#111" stroke-width="2.5" stroke-linejoin="round"/>
<polygon points="883.2,1131.8 886.5,1128.9 889.8,1131.8 886.5,1134.7" fill="none" stroke="#111" stroke-width="2.5" stroke-linejoin="round"/>
<polygon points="882.7,1141.4 886.0,1138.5 889.3,1141.4 886.0,1144.3" fill="none" stroke="#111" stroke-width="2.5" stroke-linejoin="round"/>
<polygon points="887.0,1077.5 890.3,1074.6 893.6,1077.5 890.3,1080.4" fill="none" stroke="#111" stroke-width="2.5" stroke-linejoin="round"/>
<ellipse cx="877.7" cy="1147.9" rx="4" ry="5" transform="rotate(0 877.7 1147.9)" fill="#111"/>
<polygon points="867.7,1156.2 871.0,1153.3 874.3,1156.2 871.0,1159.1" fill="none" stroke="#111" stroke-width="2.5" stroke-linejoin="round"/>
<polygon points="873.1,1161.4 876.4,1158.5 879.7,1161.4 876.4,1164.3" fill="none" stroke="#111" stroke-width="2.5" stroke-linejoin="round"/>
<polygon points="877.4,1168.3 880.7,1165.4 884.0,1168.3 880.7,1171.2" fill="none" stroke="#111" stroke-width="2.5" stroke-linejoin="round"/>
<polygon points="879.5,1171.9 882.8,1169.0 886.1,1171.9 882.8,1174.8" fill="none" stroke="#111" stroke-width="2.5" stroke-linejoin="round"/>
<polygon points="881.7,1176.0 885.0,1173.1 888.3,1176.0 885.0,1178.9" fill="none" stroke="#111" stroke-width="2.5" stroke-linejoin="round"/>
<polygon points="881.9,1158.3 885.2,1155.4 888.5,1158.3 885.2,1161.2" fill="none" stroke="#111" stroke-width="2.5" stroke-linejoin="round"/>
<polygon points="882.6,1163.5 885.9,1160.6 889.2,1163.5 885.9,1166.4" fill="none" stroke="#111" stroke-width="2.5" stroke-linejoin="round"/>
<polygon points="880.7,1170.0 884.0,1167.1 887.3,1170.0 884.0,1172.9" fill="none" stroke="#111" stroke-width="2.5" stroke-linejoin="round"/>
<polygon points="865.1,1181.6 868.4,1178.7 871.7,1181.6 868.4,1184.5" fill="none" stroke="#111" stroke-width="2.5" stroke-linejoin="round"/>
<polygon points="873.2,1179.5 876.5,1176.6 879.8,1179.5 876.5,1182.4" fill="none" stroke="#111" stroke-width="2.5" stroke-linejoin="round"/>
<polygon points="878.7,1180.0 882.0,1177.1 885.3,1180.0 882.0,1182.9" fill="none" stroke="#111" stroke-width="2.5" stroke-linejoin="round"/>
<ellipse cx="872.0" cy="1158.0" rx="5" ry="4" transform="rotate(30 872.0 1158.0)" fill="#111"/>
<ellipse cx="872.6" cy="1194.6" rx="5.5" ry="4.5" transform="rotate(0 872.6 1194.6)" fill="#111"/>
<ellipse cx="800.5" cy="1052.0" rx="4" ry="7.5" transform="rotate(0 800.5 1052.0)" fill="#111"/>
<polygon points="807.9,1045.4 811.2,1042.5 814.5,1045.4 811.2,1048.3" fill="none" stroke="#111" stroke-width="2.5" stroke-linejoin="round"/>
<polygon points="807.3,1050.5 810.6,1047.6 813.9,1050.5 810.6,1053.4" fill="none" stroke="#111" stroke-width="2.5" stroke-linejoin="round"/>
<polygon points="807.0,1053.9 810.3,1051.0 813.6,1053.9 810.3,1056.8" fill="none" stroke="#111" stroke-width="2.5" stroke-linejoin="round"/>
<polygon points="808.0,1056.9 811.3,1054.0 814.6,1056.9 811.3,1059.8" fill="none" stroke="#111" stroke-width="2.5" stroke-linejoin="round"/>
<polygon points="808.1,1062.8 811.4,1059.9 814.7,1062.8 811.4,1065.7" fill="none" stroke="#111" stroke-width="2.5" stroke-linejoin="round"/>
<polygon points="811.7,1068.0 815.0,1065.1 818.3,1068.0 815.0,1070.9" fill="none" stroke="#111" stroke-width="2.5" stroke-linejoin="round"/>
<polygon points="801.4,1057.2 804.7,1054.3 808.0,1057.2 804.7,1060.1" fill="none" stroke="#111" stroke-width="2.5" stroke-linejoin="round"/>
<polygon points="804.3,1063.1 807.6,1060.2 810.9,1063.1 807.6,1066.0" fill="none" stroke="#111" stroke-width="2.5" stroke-linejoin="round"/>
<polygon points="806.7,1066.0 810.0,1063.1 813.3,1066.0 810.0,1068.9" fill="none" stroke="#111" stroke-width="2.5" stroke-linejoin="round"/>
<ellipse cx="826.5" cy="1046.0" rx="4.5" ry="9" transform="rotate(-20 826.5 1046.0)" fill="#111"/>
<polygon points="819.2,1055.8 822.5,1052.9 825.8,1055.8 822.5,1058.7" fill="none" stroke="#111" stroke-width="2.5" stroke-linejoin="round"/>
<polygon points="822.4,1061.2 825.7,1058.3 829.0,1061.2 825.7,1064.1" fill="none" stroke="#111" stroke-width="2.5" stroke-linejoin="round"/>
<polygon points="824.8,1065.1 828.1,1062.2 831.4,1065.1 828.1,1068.0" fill="none" stroke="#111" stroke-width="2.5" stroke-linejoin="round"/>
<polygon points="825.7,1070.0 829.0,1067.1 832.3,1070.0 829.0,1072.9" fill="none" stroke="#111" stroke-width="2.5" stroke-linejoin="round"/>
<polyline points="832.0,1050.0 840.0,1060.0 848.0,1072.0" fill="none" stroke="#111" stroke-width="8" stroke-linejoin="round" stroke-linecap="round"/>
<polygon points="791.0,1067.0 794.3,1064.1 797.6,1067.0 794.3,1069.9" fill="none" stroke="#111" stroke-width="2.5" stroke-linejoin="round"/>
<polygon points="798.4,1067.0 801.7,1064.1 805.0,1067.0 801.7,1069.9" fill="none" stroke="#111" stroke-width="2.5" stroke-linejoin="round"/>
<polygon points="810.8,1065.8 814.1,1062.9 817.4,1065.8 814.1,1068.7" fill="none" stroke="#111" stroke-width="2.5" stroke-linejoin="round"/>
<polygon points="819.5,1065.8 822.8,1062.9 826.1,1065.8 822.8,1068.7" fill="none" stroke="#111" stroke-width="2.5" stroke-linejoin="round"/>
<polygon points="814.7,1058.0 818.0,1055.1 821.3,1058.0 818.0,1060.9" fill="none" stroke="#111" stroke-width="2.5" stroke-linejoin="round"/>
<polygon points="840.0,1060.0 845.0,1056.3 849.3,1062.0 849.3,1071.0 840.0,1071.0" fill="#111" stroke="#111" stroke-width="1.2" stroke-linejoin="round"/>
<polygon points="807.4,1022.4 810.7,1019.5 814.0,1022.4 810.7,1025.3" fill="none" stroke="#111" stroke-width="2.5" stroke-linejoin="round"/>
<polygon points="808.0,1030.7 811.3,1027.8 814.6,1030.7 811.3,1033.6" fill="none" stroke="#111" stroke-width="2.5" stroke-linejoin="round"/>
<polygon points="797.4,1036.0 800.7,1033.1 804.0,1036.0 800.7,1038.9" fill="none" stroke="#111" stroke-width="2.5" stroke-linejoin="round"/>
<polygon points="824.0,1029.5 827.3,1026.6 830.6,1029.5 827.3,1032.4" fill="none" stroke="#111" stroke-width="2.5" stroke-linejoin="round"/>
<polygon points="827.5,1033.7 830.8,1030.8 834.1,1033.7 830.8,1036.6" fill="none" stroke="#111" stroke-width="2.5" stroke-linejoin="round"/>
<polygon points="861.0,1007.7 864.5,1003.5 868.0,1007.7 864.5,1012.0" fill="#111" stroke="#111" stroke-width="2.4" stroke-linejoin="round"/>
<ellipse cx="888.7" cy="1031.4" rx="4.6" ry="8.3" transform="rotate(12 888.7 1031.4)" fill="#111"/>
<ellipse cx="892.3" cy="1052.1" rx="4.9" ry="8.5" transform="rotate(15 892.3 1052.1)" fill="#111"/>
<polygon points="905.8,937.5 910.0,937.5 913.0,945.0 917.2,951.0 913.0,954.7 907.0,950.0 905.8,943.0" fill="#111" stroke="#111" stroke-width="1.2" stroke-linejoin="round"/>
<polygon points="916.0,964.5 919.3,961.6 922.6,964.5 919.3,967.4" fill="none" stroke="#111" stroke-width="2.5" stroke-linejoin="round"/>
<polygon points="910.9,982.7 914.1,979.0 917.4,982.7 914.1,986.5" fill="#111" stroke="#111" stroke-width="2.4" stroke-linejoin="round"/>
<polygon points="917.0,1001.3 920.3,998.4 923.6,1001.3 920.3,1004.2" fill="none" stroke="#111" stroke-width="2.5" stroke-linejoin="round"/>
<polygon points="919.2,1006.5 922.5,1003.6 925.8,1006.5 922.5,1009.4" fill="none" stroke="#111" stroke-width="2.5" stroke-linejoin="round"/>
<polygon points="917.0,1037.1 920.3,1034.2 923.6,1037.1 920.3,1040.0" fill="none" stroke="#111" stroke-width="2.5" stroke-linejoin="round"/>
<polygon points="918.6,1052.1 921.9,1049.2 925.2,1052.1 921.9,1055.0" fill="none" stroke="#111" stroke-width="2.5" stroke-linejoin="round"/>
<polygon points="918.6,1057.3 921.9,1054.4 925.2,1057.3 921.9,1060.2" fill="none" stroke="#111" stroke-width="2.5" stroke-linejoin="round"/></g>
<line x1="349.9" y1="20.40" x2="349.9" y2="278.30" stroke="#a8161c" stroke-width="4.3" stroke-dasharray="19.5 20.3"/>
<line x1="645.3" y1="20.40" x2="645.3" y2="278.30" stroke="#a8161c" stroke-width="4.3" stroke-dasharray="19.5 20.3"/>
<line x1="349.9" y1="327.60" x2="349.9" y2="587.40" stroke="#a8161c" stroke-width="4.3" stroke-dasharray="19.5 20.3"/>
<line x1="645.3" y1="327.60" x2="645.3" y2="587.40" stroke="#a8161c" stroke-width="4.3" stroke-dasharray="19.5 20.3"/>
<line x1="349.9" y1="640.40" x2="349.9" y2="899.10" stroke="#a8161c" stroke-width="4.3" stroke-dasharray="19.5 20.3"/>
<line x1="645.3" y1="640.40" x2="645.3" y2="899.10" stroke="#a8161c" stroke-width="4.3" stroke-dasharray="19.5 20.3"/>
<line x1="349.9" y1="952.70" x2="349.9" y2="1211.60" stroke="#a8161c" stroke-width="4.3" stroke-dasharray="19.5 20.3"/>
<line x1="645.3" y1="952.70" x2="645.3" y2="1211.60" stroke="#a8161c" stroke-width="4.3" stroke-dasharray="19.5 20.3"/>
<line x1="155.4" y1="1074.1" x2="925.7" y2="1074.1" stroke="#ac141c" stroke-width="5"/>
<g opacity="0.995">
<text transform="matrix(0.32385 0 0 0.33881 78.75 1287.02)" font-size="100" stroke-width="1.06">UT</text>
<text transform="matrix(0.34216 0 0 0.33731 78.67 1339.66)" font-size="100" stroke-width="1.03">MLAT</text>
<text transform="matrix(0.34087 0 0 0.34706 221.35 1290.81)" font-size="100" stroke-width="1.02">7.8</text>
<text transform="matrix(0.34174 0 0 0.35224 434.55 1291.15)" font-size="100" stroke-width="1.01">7.9</text>
<text transform="matrix(0.33846 0 0 0.35000 648.35 1290.80)" font-size="100" stroke-width="1.02">8.0</text>
<text transform="matrix(0.32812 0 0 0.34706 861.69 1290.61)" font-size="100" stroke-width="1.04">8.</text>
<polygon points="893.67,1268.60 896.27,1268.60 896.27,1289.21 897.00,1290.44 897.00,1291.00 891.80,1291.00 891.80,1290.44 893.67,1289.21 893.67,1271.51 891.90,1272.86 891.80,1271.74" fill="#111"/>
<text transform="matrix(0.33193 0 0 0.34118 217.91 1343.52)" font-size="100" stroke-width="1.04">58.7</text>
<text transform="matrix(0.32917 0 0 0.35152 430.92 1343.85)" font-size="100" stroke-width="1.03">75.4</text>
<text transform="matrix(0.33614 0 0 0.35588 643.58 1343.49)" font-size="100" stroke-width="1.01">72.6</text>
<text transform="matrix(0.32917 0 0 0.35152 856.92 1343.85)" font-size="100" stroke-width="1.03">54.4</text>
<polygon points="95.32,18.40 98.27,18.40 98.27,39.01 99.10,40.24 99.10,40.80 93.20,40.80 93.20,40.24 95.32,39.01 95.32,21.31 93.32,22.66 93.20,21.54" fill="#111"/>
<text transform="matrix(0.34565 0 0 0.33971 104.22 40.32)" font-size="100" stroke-width="1.02">00</text>
<text transform="matrix(0.34111 0 0 0.33824 104.15 93.32)" font-size="100" stroke-width="1.03">50</text>
<text transform="matrix(0.35714 0 0 0.33235 120.77 161.94)" font-size="100" stroke-width="1.02">0</text>
<text transform="matrix(0.33846 0 0 0.30000 93.45 230.90)" font-size="100" stroke-width="1.10">-</text>
<text transform="matrix(0.34222 0 0 0.34412 104.35 231.01)" font-size="100" stroke-width="1.02">50</text>
<text transform="matrix(0.36154 0 0 0.38750 76.35 280.35)" font-size="100" stroke-width="0.93">-</text>
<polygon points="95.52,256.50 98.32,256.50 98.32,277.29 99.10,278.53 99.10,279.10 93.50,279.10 93.50,278.53 95.52,277.29 95.52,259.44 93.61,260.79 93.50,259.66" fill="#111"/>
<text transform="matrix(0.34565 0 0 0.35000 104.02 278.70)" font-size="100" stroke-width="1.01">00</text>
<polygon points="94.12,325.60 97.07,325.60 97.07,346.85 97.90,348.12 97.90,348.70 92.00,348.70 92.00,348.12 94.12,346.85 94.12,328.60 92.12,329.99 92.00,328.83" fill="#111"/>
<text transform="matrix(0.34457 0 0 0.35000 103.02 348.20)" font-size="100" stroke-width="1.01">00</text>
<text transform="matrix(0.34222 0 0 0.34706 103.25 401.41)" font-size="100" stroke-width="1.02">50</text>
<text transform="matrix(0.36905 0 0 0.34118 119.42 470.32)" font-size="100" stroke-width="0.99">0</text>
<text transform="matrix(0.33846 0 0 0.30000 92.55 540.10)" font-size="100" stroke-width="1.10">-</text>
<text transform="matrix(0.34333 0 0 0.33676 103.44 539.73)" font-size="100" stroke-width="1.03">50</text>
<text transform="matrix(0.36154 0 0 0.38750 75.25 589.25)" font-size="100" stroke-width="0.93">-</text>
<polygon points="94.42,565.40 97.22,565.40 97.22,586.47 98.00,587.73 98.00,588.30 92.40,588.30 92.40,587.73 94.42,586.47 94.42,568.38 92.51,569.75 92.40,568.61" fill="#111"/>
<text transform="matrix(0.34891 0 0 0.35441 102.90 587.89)" font-size="100" stroke-width="1.00">00</text>
<polygon points="94.62,639.20 97.57,639.20 97.57,660.27 98.40,661.53 98.40,662.10 92.50,662.10 92.50,661.53 94.62,660.27 94.62,642.18 92.62,643.55 92.50,642.41" fill="#111"/>
<text transform="matrix(0.35000 0 0 0.34706 103.50 661.61)" font-size="100" stroke-width="1.00">00</text>
<text transform="matrix(0.34556 0 0 0.33971 103.93 714.52)" font-size="100" stroke-width="1.02">50</text>
<text transform="matrix(0.36905 0 0 0.34412 120.52 782.81)" font-size="100" stroke-width="0.98">0</text>
<text transform="matrix(0.33846 0 0 0.30000 93.75 851.80)" font-size="100" stroke-width="1.10">-</text>
<text transform="matrix(0.34222 0 0 0.33676 104.65 851.43)" font-size="100" stroke-width="1.03">50</text>
<text transform="matrix(0.36154 0 0 0.38750 76.45 900.95)" font-size="100" stroke-width="0.93">-</text>
<polygon points="95.62,877.10 98.42,877.10 98.42,897.71 99.20,898.94 99.20,899.50 93.60,899.50 93.60,898.94 95.62,897.71 95.62,880.01 93.71,881.36 93.60,880.24" fill="#111"/>
<text transform="matrix(0.34783 0 0 0.34706 104.11 899.11)" font-size="100" stroke-width="1.01">00</text>
<polygon points="94.62,950.60 97.57,950.60 97.57,971.85 98.40,973.12 98.40,973.70 92.50,973.70 92.50,973.12 94.62,971.85 94.62,953.60 92.62,954.99 92.50,953.83" fill="#111"/>
<text transform="matrix(0.35000 0 0 0.35000 103.50 973.20)" font-size="100" stroke-width="1.00">00</text>
<text transform="matrix(0.34222 0 0 0.33971 104.25 1026.42)" font-size="100" stroke-width="1.03">50</text>
<text transform="matrix(0.37143 0 0 0.34412 120.81 1095.11)" font-size="100" stroke-width="0.98">0</text>
<text transform="matrix(0.33846 0 0 0.30000 93.75 1164.10)" font-size="100" stroke-width="1.10">-</text>
<text transform="matrix(0.34667 0 0 0.33676 104.62 1163.73)" font-size="100" stroke-width="1.02">50</text>
<text transform="matrix(0.36154 0 0 0.38750 76.95 1213.25)" font-size="100" stroke-width="0.93">-</text>
<polygon points="96.12,1189.40 98.92,1189.40 98.92,1210.01 99.70,1211.24 99.70,1211.80 94.10,1211.80 94.10,1211.24 96.12,1210.01 96.12,1192.31 94.21,1193.66 94.10,1192.54" fill="#111"/>
<text transform="matrix(0.34674 0 0 0.34706 104.61 1211.41)" font-size="100" stroke-width="1.01">00</text>
<text transform="matrix(0.47961 0 0 0.46222 175.58 46.79)" font-size="100" stroke-width="0.74">(a)</text>
<text transform="matrix(0.48426 0 0 0.46333 175.06 362.87)" font-size="100" stroke-width="0.74">(b)</text>
<text transform="matrix(0.48544 0 0 0.46111 175.06 667.62)" font-size="100" stroke-width="0.74">(c)</text>
<text transform="matrix(0.48056 0 0 0.46333 173.18 983.97)" font-size="100" stroke-width="0.74">(d)</text>
<text transform="matrix(0 -0.31509 0.35000 0 27.35 211.65)" font-size="100" stroke-width="1.05">E</text>
<text transform="matrix(0 -0.33121 0.33222 0 27.22 176.02)" font-size="100" stroke-width="1.06">(mV/m)</text>
<text transform="matrix(0 -0.30943 0.35303 0 26.75 525.93)" font-size="100" stroke-width="1.06">E</text>
<text transform="matrix(0 -0.20577 0.22308 0 54.80 506.72)" font-size="100" stroke-width="1.63">L</text>
<text transform="matrix(0 -0.33471 0.33667 0 26.33 478.44)" font-size="100" stroke-width="1.04">(mV/m)</text>
<text transform="matrix(0 -0.30755 0.34848 0 27.65 839.02)" font-size="100" stroke-width="1.07">E</text>
<text transform="matrix(0 -0.24048 0.21176 0 55.58 820.28)" font-size="100" stroke-width="1.55">S</text>
<text transform="matrix(0 -0.33312 0.33222 0 27.32 791.63)" font-size="100" stroke-width="1.05">(mV/m)</text>
<text transform="matrix(0 -0.31132 0.34091 0 27.66 1132.43)" font-size="100" stroke-width="1.07">E</text>
<text transform="matrix(0 -0.23810 0.21324 0 55.57 1115.17)" font-size="100" stroke-width="1.55">S</text>
<text transform="matrix(0 -0.33929 0.34328 0 27.81 1102.00)" font-size="100" stroke-width="1.03">/E</text>
<text transform="matrix(0 -0.33688 0.33889 0 27.88 1064.35)" font-size="100" stroke-width="1.04">(%)</text>
</g>
</svg></body></html>
